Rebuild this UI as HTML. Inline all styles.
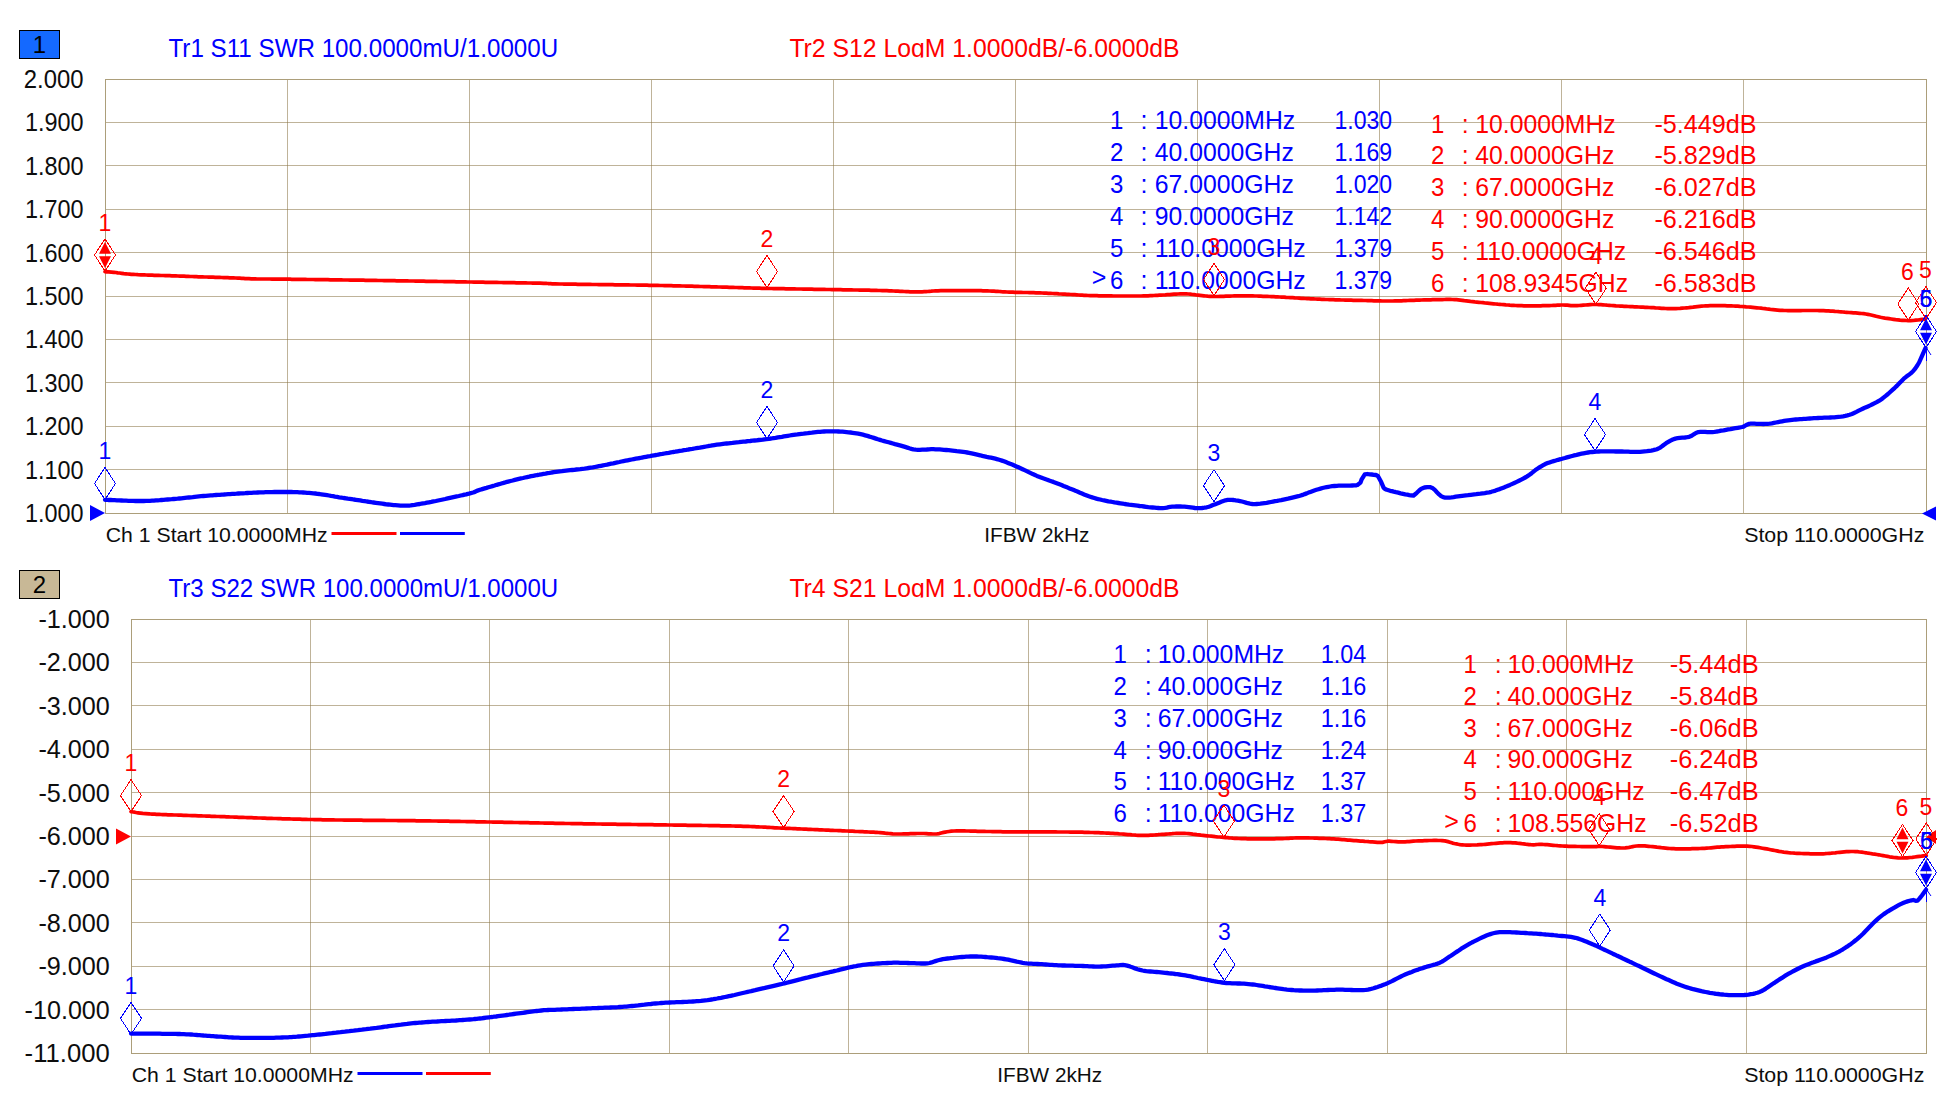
<!DOCTYPE html>
<html><head><meta charset="utf-8"><title>VNA</title>
<style>html,body{margin:0;padding:0;background:#fff;overflow:hidden}svg{display:block}text{font-family:"Liberation Sans",sans-serif}</style>
</head><body>
<svg width="1951" height="1108" viewBox="0 0 1951 1108">
<rect width="1951" height="1108" fill="#fff"/>
<rect x="19.5" y="30.5" width="40" height="28" fill="#1469ff" stroke="#000" stroke-width="1"/>
<text x="32.64" y="52.80" font-size="24" fill="#000">1</text>
<text x="168.50" y="57.40" font-size="25" fill="#0000ff" textLength="389.69" lengthAdjust="spacingAndGlyphs">Tr1 S11 SWR 100.0000mU/1.0000U</text>
<clipPath id="clip0"><rect x="780" y="30" width="420" height="27.5"/></clipPath>
<text x="789.40" y="56.80" font-size="25" fill="#ff0000" textLength="390.15" lengthAdjust="spacingAndGlyphs" clip-path="url(#clip0)">Tr2 S12 LogM 1.0000dB/-6.0000dB</text>
<path d="M106 122.5H1926M106 165.5H1926M106 209.5H1926M106 252.5H1926M106 296.5H1926M106 339.5H1926M106 382.5H1926M106 426.5H1926M106 469.5H1926" stroke="#8a7445" stroke-opacity="0.55" stroke-width="1" fill="none" shape-rendering="crispEdges"/>
<path d="M287.5 80V513M469.5 80V513M651.5 80V513M833.5 80V513M1015.5 80V513M1197.5 80V513M1379.5 80V513M1561.5 80V513M1743.5 80V513" stroke="#8a7445" stroke-opacity="0.55" stroke-width="1" fill="none" shape-rendering="crispEdges"/>
<rect x="105.5" y="79.5" width="1821" height="434" stroke="#ac9e7a" stroke-width="1" fill="none" shape-rendering="crispEdges"/>
<text x="23.80" y="88.00" font-size="25" fill="#0d0d0d" textLength="59.74" lengthAdjust="spacingAndGlyphs">2.000</text>
<text x="24.90" y="131.40" font-size="25" fill="#0d0d0d" textLength="58.64" lengthAdjust="spacingAndGlyphs">1.900</text>
<text x="24.90" y="174.80" font-size="25" fill="#0d0d0d" textLength="58.64" lengthAdjust="spacingAndGlyphs">1.800</text>
<text x="24.90" y="218.20" font-size="25" fill="#0d0d0d" textLength="58.64" lengthAdjust="spacingAndGlyphs">1.700</text>
<text x="24.90" y="261.60" font-size="25" fill="#0d0d0d" textLength="58.64" lengthAdjust="spacingAndGlyphs">1.600</text>
<text x="24.90" y="305.00" font-size="25" fill="#0d0d0d" textLength="58.64" lengthAdjust="spacingAndGlyphs">1.500</text>
<text x="24.90" y="348.40" font-size="25" fill="#0d0d0d" textLength="58.64" lengthAdjust="spacingAndGlyphs">1.400</text>
<text x="24.90" y="391.80" font-size="25" fill="#0d0d0d" textLength="58.64" lengthAdjust="spacingAndGlyphs">1.300</text>
<text x="24.90" y="435.20" font-size="25" fill="#0d0d0d" textLength="58.64" lengthAdjust="spacingAndGlyphs">1.200</text>
<text x="24.90" y="478.60" font-size="25" fill="#0d0d0d" textLength="58.64" lengthAdjust="spacingAndGlyphs">1.100</text>
<text x="24.90" y="522.00" font-size="25" fill="#0d0d0d" textLength="58.64" lengthAdjust="spacingAndGlyphs">1.000</text>
<text x="105.80" y="541.80" font-size="21" fill="#0d0d0d" textLength="221.80" lengthAdjust="spacingAndGlyphs">Ch 1 Start 10.0000MHz</text>
<path d="M331.5 533.5h65" stroke="#ff0000" stroke-width="3"/>
<path d="M400 533.5h64.8" stroke="#0000ff" stroke-width="3"/>
<text x="984.20" y="541.90" font-size="21" fill="#0d0d0d" textLength="105.21" lengthAdjust="spacingAndGlyphs">IFBW 2kHz</text>
<text x="1744.20" y="542.10" font-size="21" fill="#0d0d0d" textLength="180.14" lengthAdjust="spacingAndGlyphs">Stop 110.0000GHz</text>
<rect x="19.5" y="570.5" width="40" height="28" fill="#c8b896" stroke="#000" stroke-width="1"/>
<text x="32.64" y="592.80" font-size="24" fill="#000">2</text>
<text x="168.50" y="597.40" font-size="25" fill="#0000ff" textLength="389.67" lengthAdjust="spacingAndGlyphs">Tr3 S22 SWR 100.0000mU/1.0000U</text>
<clipPath id="clip540"><rect x="780" y="570" width="420" height="27.5"/></clipPath>
<text x="789.40" y="596.80" font-size="25" fill="#ff0000" textLength="390.15" lengthAdjust="spacingAndGlyphs" clip-path="url(#clip540)">Tr4 S21 LogM 1.0000dB/-6.0000dB</text>
<path d="M132 662.5H1926M132 705.5H1926M132 749.5H1926M132 792.5H1926M132 836.5H1926M132 879.5H1926M132 922.5H1926M132 966.5H1926M132 1009.5H1926" stroke="#8a7445" stroke-opacity="0.55" stroke-width="1" fill="none" shape-rendering="crispEdges"/>
<path d="M310.5 620V1053M489.5 620V1053M669.5 620V1053M848.5 620V1053M1028.5 620V1053M1207.5 620V1053M1387.5 620V1053M1566.5 620V1053M1746.5 620V1053" stroke="#8a7445" stroke-opacity="0.55" stroke-width="1" fill="none" shape-rendering="crispEdges"/>
<rect x="131.5" y="619.5" width="1795" height="434" stroke="#ac9e7a" stroke-width="1" fill="none" shape-rendering="crispEdges"/>
<text x="38.40" y="628.00" font-size="25" fill="#0d0d0d" textLength="71.41" lengthAdjust="spacingAndGlyphs">-1.000</text>
<text x="38.40" y="671.40" font-size="25" fill="#0d0d0d" textLength="71.41" lengthAdjust="spacingAndGlyphs">-2.000</text>
<text x="38.40" y="714.80" font-size="25" fill="#0d0d0d" textLength="71.41" lengthAdjust="spacingAndGlyphs">-3.000</text>
<text x="38.40" y="758.20" font-size="25" fill="#0d0d0d" textLength="71.41" lengthAdjust="spacingAndGlyphs">-4.000</text>
<text x="38.40" y="801.60" font-size="25" fill="#0d0d0d" textLength="71.41" lengthAdjust="spacingAndGlyphs">-5.000</text>
<text x="38.40" y="845.00" font-size="25" fill="#0d0d0d" textLength="71.41" lengthAdjust="spacingAndGlyphs">-6.000</text>
<text x="38.40" y="888.40" font-size="25" fill="#0d0d0d" textLength="71.41" lengthAdjust="spacingAndGlyphs">-7.000</text>
<text x="38.40" y="931.80" font-size="25" fill="#0d0d0d" textLength="71.41" lengthAdjust="spacingAndGlyphs">-8.000</text>
<text x="38.40" y="975.20" font-size="25" fill="#0d0d0d" textLength="71.41" lengthAdjust="spacingAndGlyphs">-9.000</text>
<text x="24.60" y="1018.60" font-size="25" fill="#0d0d0d" textLength="85.24" lengthAdjust="spacingAndGlyphs">-10.000</text>
<text x="24.60" y="1062.00" font-size="25" fill="#0d0d0d" textLength="85.14" lengthAdjust="spacingAndGlyphs">-11.000</text>
<text x="131.80" y="1081.80" font-size="21" fill="#0d0d0d" textLength="221.80" lengthAdjust="spacingAndGlyphs">Ch 1 Start 10.0000MHz</text>
<path d="M357.5 1073.5h65" stroke="#0000ff" stroke-width="3"/>
<path d="M426 1073.5h64.8" stroke="#ff0000" stroke-width="3"/>
<text x="997.30" y="1081.90" font-size="21" fill="#0d0d0d" textLength="104.91" lengthAdjust="spacingAndGlyphs">IFBW 2kHz</text>
<text x="1744.20" y="1082.10" font-size="21" fill="#0d0d0d" textLength="180.14" lengthAdjust="spacingAndGlyphs">Stop 110.0000GHz</text>
<text x="1110.00" y="128.90" font-size="25" fill="#0000ff" textLength="13.35" lengthAdjust="spacingAndGlyphs">1</text>
<text x="1140.60" y="128.90" font-size="25" fill="#0000ff">:</text>
<text x="1154.80" y="128.90" font-size="25" fill="#0000ff" textLength="140.33" lengthAdjust="spacingAndGlyphs">10.0000MHz</text>
<text x="1334.50" y="128.90" font-size="25" fill="#0000ff" textLength="57.66" lengthAdjust="spacingAndGlyphs">1.030</text>
<text x="1110.00" y="160.90" font-size="25" fill="#0000ff" textLength="13.35" lengthAdjust="spacingAndGlyphs">2</text>
<text x="1140.60" y="160.90" font-size="25" fill="#0000ff">:</text>
<text x="1154.80" y="160.90" font-size="25" fill="#0000ff" textLength="138.97" lengthAdjust="spacingAndGlyphs">40.0000GHz</text>
<text x="1334.50" y="160.90" font-size="25" fill="#0000ff" textLength="57.66" lengthAdjust="spacingAndGlyphs">1.169</text>
<text x="1110.00" y="192.90" font-size="25" fill="#0000ff" textLength="13.35" lengthAdjust="spacingAndGlyphs">3</text>
<text x="1140.60" y="192.90" font-size="25" fill="#0000ff">:</text>
<text x="1154.80" y="192.90" font-size="25" fill="#0000ff" textLength="138.97" lengthAdjust="spacingAndGlyphs">67.0000GHz</text>
<text x="1334.50" y="192.90" font-size="25" fill="#0000ff" textLength="57.66" lengthAdjust="spacingAndGlyphs">1.020</text>
<text x="1110.00" y="224.90" font-size="25" fill="#0000ff" textLength="13.35" lengthAdjust="spacingAndGlyphs">4</text>
<text x="1140.60" y="224.90" font-size="25" fill="#0000ff">:</text>
<text x="1154.80" y="224.90" font-size="25" fill="#0000ff" textLength="138.97" lengthAdjust="spacingAndGlyphs">90.0000GHz</text>
<text x="1334.50" y="224.90" font-size="25" fill="#0000ff" textLength="57.66" lengthAdjust="spacingAndGlyphs">1.142</text>
<text x="1110.00" y="256.90" font-size="25" fill="#0000ff" textLength="13.35" lengthAdjust="spacingAndGlyphs">5</text>
<text x="1140.60" y="256.90" font-size="25" fill="#0000ff">:</text>
<text x="1154.80" y="256.90" font-size="25" fill="#0000ff" textLength="150.90" lengthAdjust="spacingAndGlyphs">110.0000GHz</text>
<text x="1334.50" y="256.90" font-size="25" fill="#0000ff" textLength="57.66" lengthAdjust="spacingAndGlyphs">1.379</text>
<text x="1110.00" y="288.90" font-size="25" fill="#0000ff" textLength="13.35" lengthAdjust="spacingAndGlyphs">6</text>
<text x="1140.60" y="288.90" font-size="25" fill="#0000ff">:</text>
<text x="1154.80" y="288.90" font-size="25" fill="#0000ff" textLength="150.90" lengthAdjust="spacingAndGlyphs">110.0000GHz</text>
<text x="1334.50" y="288.90" font-size="25" fill="#0000ff" textLength="57.66" lengthAdjust="spacingAndGlyphs">1.379</text>
<text x="1091.70" y="286.40" font-size="25" fill="#0000ff">&gt;</text>
<text x="1431.00" y="132.50" font-size="25" fill="#ff0000" textLength="13.35" lengthAdjust="spacingAndGlyphs">1</text>
<text x="1461.80" y="132.50" font-size="25" fill="#ff0000">:</text>
<text x="1475.30" y="132.50" font-size="25" fill="#ff0000" textLength="140.33" lengthAdjust="spacingAndGlyphs">10.0000MHz</text>
<text x="1654.40" y="132.50" font-size="25" fill="#ff0000" textLength="102.28" lengthAdjust="spacingAndGlyphs">-5.449dB</text>
<text x="1431.00" y="164.40" font-size="25" fill="#ff0000" textLength="13.35" lengthAdjust="spacingAndGlyphs">2</text>
<text x="1461.80" y="164.40" font-size="25" fill="#ff0000">:</text>
<text x="1475.30" y="164.40" font-size="25" fill="#ff0000" textLength="138.97" lengthAdjust="spacingAndGlyphs">40.0000GHz</text>
<text x="1654.40" y="164.40" font-size="25" fill="#ff0000" textLength="102.28" lengthAdjust="spacingAndGlyphs">-5.829dB</text>
<text x="1431.00" y="196.30" font-size="25" fill="#ff0000" textLength="13.35" lengthAdjust="spacingAndGlyphs">3</text>
<text x="1461.80" y="196.30" font-size="25" fill="#ff0000">:</text>
<text x="1475.30" y="196.30" font-size="25" fill="#ff0000" textLength="138.97" lengthAdjust="spacingAndGlyphs">67.0000GHz</text>
<text x="1654.40" y="196.30" font-size="25" fill="#ff0000" textLength="102.28" lengthAdjust="spacingAndGlyphs">-6.027dB</text>
<text x="1431.00" y="228.20" font-size="25" fill="#ff0000" textLength="13.35" lengthAdjust="spacingAndGlyphs">4</text>
<text x="1461.80" y="228.20" font-size="25" fill="#ff0000">:</text>
<text x="1475.30" y="228.20" font-size="25" fill="#ff0000" textLength="138.97" lengthAdjust="spacingAndGlyphs">90.0000GHz</text>
<text x="1654.40" y="228.20" font-size="25" fill="#ff0000" textLength="102.28" lengthAdjust="spacingAndGlyphs">-6.216dB</text>
<text x="1431.00" y="260.10" font-size="25" fill="#ff0000" textLength="13.35" lengthAdjust="spacingAndGlyphs">5</text>
<text x="1461.80" y="260.10" font-size="25" fill="#ff0000">:</text>
<text x="1475.30" y="260.10" font-size="25" fill="#ff0000" textLength="150.90" lengthAdjust="spacingAndGlyphs">110.0000GHz</text>
<text x="1654.40" y="260.10" font-size="25" fill="#ff0000" textLength="102.28" lengthAdjust="spacingAndGlyphs">-6.546dB</text>
<text x="1431.00" y="292.00" font-size="25" fill="#ff0000" textLength="13.35" lengthAdjust="spacingAndGlyphs">6</text>
<text x="1461.80" y="292.00" font-size="25" fill="#ff0000">:</text>
<text x="1475.30" y="292.00" font-size="25" fill="#ff0000" textLength="152.73" lengthAdjust="spacingAndGlyphs">108.9345GHz</text>
<text x="1654.40" y="292.00" font-size="25" fill="#ff0000" textLength="102.28" lengthAdjust="spacingAndGlyphs">-6.583dB</text>
<text x="1113.50" y="663.10" font-size="25" fill="#0000ff" textLength="13.35" lengthAdjust="spacingAndGlyphs">1</text>
<text x="1144.80" y="663.10" font-size="25" fill="#0000ff">:</text>
<text x="1157.70" y="663.10" font-size="25" fill="#0000ff" textLength="126.57" lengthAdjust="spacingAndGlyphs">10.000MHz</text>
<text x="1320.70" y="663.10" font-size="25" fill="#0000ff" textLength="45.54" lengthAdjust="spacingAndGlyphs">1.04</text>
<text x="1113.50" y="694.90" font-size="25" fill="#0000ff" textLength="13.35" lengthAdjust="spacingAndGlyphs">2</text>
<text x="1144.80" y="694.90" font-size="25" fill="#0000ff">:</text>
<text x="1157.70" y="694.90" font-size="25" fill="#0000ff" textLength="125.20" lengthAdjust="spacingAndGlyphs">40.000GHz</text>
<text x="1320.70" y="694.90" font-size="25" fill="#0000ff" textLength="45.54" lengthAdjust="spacingAndGlyphs">1.16</text>
<text x="1113.50" y="726.70" font-size="25" fill="#0000ff" textLength="13.35" lengthAdjust="spacingAndGlyphs">3</text>
<text x="1144.80" y="726.70" font-size="25" fill="#0000ff">:</text>
<text x="1157.70" y="726.70" font-size="25" fill="#0000ff" textLength="125.20" lengthAdjust="spacingAndGlyphs">67.000GHz</text>
<text x="1320.70" y="726.70" font-size="25" fill="#0000ff" textLength="45.54" lengthAdjust="spacingAndGlyphs">1.16</text>
<text x="1113.50" y="758.50" font-size="25" fill="#0000ff" textLength="13.35" lengthAdjust="spacingAndGlyphs">4</text>
<text x="1144.80" y="758.50" font-size="25" fill="#0000ff">:</text>
<text x="1157.70" y="758.50" font-size="25" fill="#0000ff" textLength="125.20" lengthAdjust="spacingAndGlyphs">90.000GHz</text>
<text x="1320.70" y="758.50" font-size="25" fill="#0000ff" textLength="45.54" lengthAdjust="spacingAndGlyphs">1.24</text>
<text x="1113.50" y="790.30" font-size="25" fill="#0000ff" textLength="13.35" lengthAdjust="spacingAndGlyphs">5</text>
<text x="1144.80" y="790.30" font-size="25" fill="#0000ff">:</text>
<text x="1157.70" y="790.30" font-size="25" fill="#0000ff" textLength="137.13" lengthAdjust="spacingAndGlyphs">110.000GHz</text>
<text x="1320.70" y="790.30" font-size="25" fill="#0000ff" textLength="45.54" lengthAdjust="spacingAndGlyphs">1.37</text>
<text x="1113.50" y="822.10" font-size="25" fill="#0000ff" textLength="13.35" lengthAdjust="spacingAndGlyphs">6</text>
<text x="1144.80" y="822.10" font-size="25" fill="#0000ff">:</text>
<text x="1157.70" y="822.10" font-size="25" fill="#0000ff" textLength="137.13" lengthAdjust="spacingAndGlyphs">110.000GHz</text>
<text x="1320.70" y="822.10" font-size="25" fill="#0000ff" textLength="45.54" lengthAdjust="spacingAndGlyphs">1.37</text>
<text x="1463.50" y="672.90" font-size="25" fill="#ff0000" textLength="13.35" lengthAdjust="spacingAndGlyphs">1</text>
<text x="1494.80" y="672.90" font-size="25" fill="#ff0000">:</text>
<text x="1507.60" y="672.90" font-size="25" fill="#ff0000" textLength="126.57" lengthAdjust="spacingAndGlyphs">10.000MHz</text>
<text x="1669.70" y="672.90" font-size="25" fill="#ff0000" textLength="89.02" lengthAdjust="spacingAndGlyphs">-5.44dB</text>
<text x="1463.50" y="704.75" font-size="25" fill="#ff0000" textLength="13.35" lengthAdjust="spacingAndGlyphs">2</text>
<text x="1494.80" y="704.75" font-size="25" fill="#ff0000">:</text>
<text x="1507.60" y="704.75" font-size="25" fill="#ff0000" textLength="125.20" lengthAdjust="spacingAndGlyphs">40.000GHz</text>
<text x="1669.70" y="704.75" font-size="25" fill="#ff0000" textLength="89.02" lengthAdjust="spacingAndGlyphs">-5.84dB</text>
<text x="1463.50" y="736.60" font-size="25" fill="#ff0000" textLength="13.35" lengthAdjust="spacingAndGlyphs">3</text>
<text x="1494.80" y="736.60" font-size="25" fill="#ff0000">:</text>
<text x="1507.60" y="736.60" font-size="25" fill="#ff0000" textLength="125.20" lengthAdjust="spacingAndGlyphs">67.000GHz</text>
<text x="1669.70" y="736.60" font-size="25" fill="#ff0000" textLength="89.02" lengthAdjust="spacingAndGlyphs">-6.06dB</text>
<text x="1463.50" y="768.45" font-size="25" fill="#ff0000" textLength="13.35" lengthAdjust="spacingAndGlyphs">4</text>
<text x="1494.80" y="768.45" font-size="25" fill="#ff0000">:</text>
<text x="1507.60" y="768.45" font-size="25" fill="#ff0000" textLength="125.20" lengthAdjust="spacingAndGlyphs">90.000GHz</text>
<text x="1669.70" y="768.45" font-size="25" fill="#ff0000" textLength="89.02" lengthAdjust="spacingAndGlyphs">-6.24dB</text>
<text x="1463.50" y="800.30" font-size="25" fill="#ff0000" textLength="13.35" lengthAdjust="spacingAndGlyphs">5</text>
<text x="1494.80" y="800.30" font-size="25" fill="#ff0000">:</text>
<text x="1507.60" y="800.30" font-size="25" fill="#ff0000" textLength="137.13" lengthAdjust="spacingAndGlyphs">110.000GHz</text>
<text x="1669.70" y="800.30" font-size="25" fill="#ff0000" textLength="89.02" lengthAdjust="spacingAndGlyphs">-6.47dB</text>
<text x="1463.50" y="832.15" font-size="25" fill="#ff0000" textLength="13.35" lengthAdjust="spacingAndGlyphs">6</text>
<text x="1494.80" y="832.15" font-size="25" fill="#ff0000">:</text>
<text x="1507.60" y="832.15" font-size="25" fill="#ff0000" textLength="138.97" lengthAdjust="spacingAndGlyphs">108.556GHz</text>
<text x="1669.70" y="832.15" font-size="25" fill="#ff0000" textLength="89.02" lengthAdjust="spacingAndGlyphs">-6.52dB</text>
<text x="1444.20" y="829.65" font-size="25" fill="#ff0000">&gt;</text>
<path d="M105.0 271.7 L106.5 271.8 L108.8 271.9 L111.3 272.1 L114.0 272.3 L115.8 272.5 L117.7 272.8 L119.6 273.0 L121.7 273.3 L123.8 273.6 L126.0 273.8 L127.8 274.0 L129.6 274.1 L131.4 274.3 L133.3 274.4 L135.5 274.5 L138.0 274.7 L141.0 274.8 L142.6 274.9 L144.3 274.9 L146.2 275.0 L148.1 275.1 L150.1 275.1 L152.2 275.2 L154.3 275.3 L156.5 275.3 L158.7 275.4 L161.0 275.5 L163.2 275.5 L165.4 275.6 L167.6 275.7 L169.7 275.7 L171.8 275.8 L173.8 275.9 L175.9 275.9 L177.9 276.0 L180.0 276.1 L182.0 276.2 L184.1 276.2 L186.1 276.3 L188.2 276.4 L190.2 276.5 L192.3 276.5 L194.3 276.6 L196.4 276.7 L198.4 276.8 L200.5 276.8 L202.5 276.9 L204.6 277.0 L206.7 277.0 L208.8 277.1 L211.0 277.2 L213.1 277.2 L215.3 277.3 L217.5 277.4 L219.6 277.4 L221.7 277.5 L223.8 277.6 L225.8 277.6 L227.8 277.7 L229.7 277.8 L231.5 277.8 L233.3 277.9 L235.7 278.0 L237.9 278.1 L239.8 278.2 L241.6 278.3 L243.4 278.4 L245.2 278.6 L247.0 278.7 L249.0 278.7 L251.3 278.8 L253.8 278.9 L255.4 278.9 L257.0 279.0 L258.4 279.0 L259.9 279.0 L261.3 279.0 L262.8 279.0 L264.4 279.0 L266.0 279.0 L267.8 279.0 L269.8 279.0 L272.0 279.1 L274.5 279.1 L277.2 279.1 L280.2 279.1 L283.6 279.2 L287.3 279.2 L288.7 279.2 L290.2 279.2 L291.7 279.3 L293.2 279.3 L294.8 279.3 L296.5 279.3 L298.2 279.3 L300.0 279.4 L301.7 279.4 L303.6 279.4 L305.4 279.4 L307.3 279.5 L309.3 279.5 L311.3 279.5 L313.3 279.5 L315.3 279.6 L317.4 279.6 L319.4 279.6 L321.5 279.7 L323.7 279.7 L325.8 279.7 L328.0 279.7 L330.2 279.8 L332.4 279.8 L334.6 279.8 L336.8 279.9 L339.0 279.9 L341.2 279.9 L343.4 280.0 L345.7 280.0 L347.9 280.0 L350.1 280.1 L352.4 280.1 L354.6 280.1 L356.8 280.2 L359.0 280.2 L361.2 280.2 L363.3 280.2 L365.5 280.3 L367.6 280.3 L369.8 280.3 L371.9 280.4 L373.9 280.4 L376.0 280.4 L378.0 280.5 L380.0 280.5 L382.1 280.5 L384.1 280.6 L386.2 280.6 L388.3 280.6 L390.4 280.7 L392.5 280.7 L394.6 280.7 L396.7 280.8 L398.8 280.8 L400.9 280.8 L403.0 280.9 L405.1 280.9 L407.2 280.9 L409.3 281.0 L411.4 281.0 L413.5 281.0 L415.6 281.1 L417.7 281.1 L419.8 281.1 L421.9 281.2 L423.9 281.2 L426.0 281.3 L428.1 281.3 L430.2 281.3 L432.2 281.4 L434.3 281.4 L436.3 281.4 L438.3 281.5 L440.4 281.5 L442.4 281.5 L444.4 281.6 L446.4 281.6 L448.4 281.6 L450.3 281.7 L452.3 281.7 L454.2 281.7 L456.2 281.8 L458.1 281.8 L460.0 281.8 L461.9 281.9 L463.8 281.9 L465.6 281.9 L467.5 282.0 L469.3 282.0 L471.6 282.0 L473.9 282.1 L476.2 282.1 L478.5 282.2 L480.8 282.2 L483.1 282.2 L485.4 282.3 L487.7 282.3 L490.0 282.3 L492.3 282.4 L494.6 282.4 L496.9 282.4 L499.1 282.5 L501.4 282.5 L503.6 282.6 L505.7 282.6 L507.9 282.6 L510.0 282.7 L512.2 282.7 L514.2 282.7 L516.3 282.8 L518.3 282.8 L520.2 282.8 L522.2 282.9 L524.0 282.9 L525.9 282.9 L527.7 283.0 L529.4 283.0 L531.1 283.0 L532.7 283.1 L534.3 283.1 L535.8 283.1 L537.3 283.1 L538.7 283.2 L540.0 283.2 L543.7 283.3 L546.1 283.4 L547.5 283.5 L548.3 283.5 L548.7 283.6 L549.3 283.7 L550.4 283.7 L552.3 283.8 L555.4 283.9 L560.0 284.0 L561.3 284.0 L562.6 284.0 L564.0 284.1 L565.5 284.1 L567.1 284.1 L568.7 284.1 L570.4 284.2 L572.2 284.2 L574.0 284.2 L575.8 284.2 L577.7 284.3 L579.7 284.3 L581.7 284.3 L583.7 284.4 L585.8 284.4 L587.9 284.4 L590.1 284.4 L592.3 284.5 L594.5 284.5 L596.7 284.5 L598.9 284.6 L601.2 284.6 L603.5 284.6 L605.7 284.6 L608.0 284.7 L610.3 284.7 L612.6 284.7 L614.9 284.8 L617.2 284.8 L619.5 284.8 L621.8 284.8 L624.0 284.9 L626.3 284.9 L628.5 284.9 L630.7 285.0 L632.9 285.0 L635.0 285.0 L637.2 285.1 L639.2 285.1 L641.3 285.1 L643.3 285.2 L645.2 285.2 L647.1 285.2 L649.0 285.3 L650.8 285.3 L653.1 285.3 L655.5 285.4 L657.8 285.4 L660.1 285.5 L662.3 285.5 L664.6 285.6 L666.8 285.6 L669.1 285.7 L671.3 285.7 L673.4 285.8 L675.6 285.8 L677.7 285.9 L679.9 285.9 L682.0 286.0 L684.1 286.0 L686.1 286.1 L688.2 286.1 L690.2 286.2 L692.2 286.2 L694.2 286.3 L696.2 286.4 L698.1 286.4 L700.1 286.5 L702.0 286.5 L703.9 286.6 L705.7 286.6 L707.6 286.7 L709.4 286.7 L711.2 286.8 L713.0 286.8 L714.8 286.9 L716.6 286.9 L718.3 287.0 L720.0 287.0 L722.5 287.1 L724.8 287.1 L727.0 287.2 L729.2 287.3 L731.2 287.3 L733.2 287.4 L735.1 287.5 L737.0 287.5 L738.8 287.6 L740.6 287.6 L742.4 287.7 L744.2 287.8 L746.0 287.8 L747.8 287.9 L749.6 287.9 L751.5 288.0 L753.4 288.1 L755.3 288.1 L757.4 288.2 L759.5 288.2 L761.7 288.3 L764.0 288.3 L766.4 288.4 L768.1 288.4 L770.0 288.5 L771.8 288.5 L773.7 288.6 L775.6 288.6 L777.6 288.6 L779.7 288.7 L781.7 288.7 L783.8 288.7 L785.9 288.8 L788.0 288.8 L790.2 288.9 L792.3 288.9 L794.5 288.9 L796.7 289.0 L798.9 289.0 L801.1 289.0 L803.3 289.1 L805.5 289.1 L807.7 289.2 L809.8 289.2 L812.0 289.2 L814.1 289.3 L816.2 289.3 L818.3 289.3 L820.3 289.4 L822.4 289.4 L824.4 289.4 L826.3 289.5 L828.2 289.5 L830.0 289.5 L831.9 289.6 L833.6 289.6 L836.0 289.6 L838.4 289.7 L840.7 289.7 L843.0 289.8 L845.2 289.8 L847.4 289.8 L849.5 289.9 L851.6 289.9 L853.7 290.0 L855.7 290.0 L857.7 290.0 L859.6 290.1 L861.6 290.1 L863.5 290.1 L865.4 290.2 L867.2 290.2 L869.1 290.2 L870.9 290.3 L872.7 290.3 L874.6 290.4 L876.4 290.4 L878.2 290.5 L880.0 290.5 L882.3 290.6 L884.6 290.6 L886.9 290.7 L889.2 290.8 L891.4 290.9 L893.6 291.0 L895.8 291.1 L898.0 291.2 L900.1 291.3 L902.2 291.4 L904.2 291.5 L906.2 291.6 L908.2 291.7 L910.1 291.8 L912.0 291.8 L913.8 291.9 L915.6 291.9 L917.3 291.9 L919.9 291.9 L922.1 291.8 L924.2 291.7 L926.0 291.6 L927.8 291.5 L929.5 291.3 L931.3 291.2 L933.3 291.0 L935.5 290.9 L938.0 290.8 L940.8 290.7 L942.5 290.7 L944.3 290.7 L946.2 290.6 L948.2 290.6 L950.2 290.6 L952.4 290.6 L954.6 290.6 L956.9 290.6 L959.2 290.6 L961.5 290.6 L963.8 290.6 L966.1 290.6 L968.4 290.6 L970.7 290.6 L972.9 290.6 L975.1 290.7 L977.2 290.7 L979.2 290.7 L981.1 290.7 L982.9 290.8 L984.6 290.8 L987.3 290.9 L989.7 291.0 L992.0 291.1 L994.0 291.2 L995.9 291.3 L997.7 291.4 L999.5 291.5 L1001.3 291.7 L1003.1 291.8 L1005.0 291.9 L1007.0 292.0 L1009.2 292.1 L1011.1 292.2 L1013.0 292.2 L1015.0 292.3 L1017.0 292.3 L1019.0 292.4 L1021.1 292.4 L1023.2 292.5 L1025.3 292.5 L1027.4 292.5 L1029.5 292.6 L1031.6 292.6 L1033.7 292.7 L1035.9 292.8 L1037.9 292.8 L1040.0 292.9 L1042.1 293.0 L1044.1 293.1 L1046.2 293.2 L1048.4 293.3 L1050.5 293.4 L1052.6 293.5 L1054.7 293.6 L1056.8 293.7 L1058.9 293.9 L1060.9 294.0 L1063.0 294.1 L1065.0 294.2 L1066.9 294.3 L1068.8 294.4 L1070.7 294.5 L1072.9 294.6 L1074.9 294.7 L1076.8 294.8 L1078.7 295.0 L1080.4 295.1 L1082.2 295.2 L1084.0 295.3 L1086.0 295.4 L1088.0 295.5 L1090.2 295.6 L1092.6 295.6 L1095.3 295.7 L1097.0 295.7 L1098.8 295.8 L1100.6 295.8 L1102.6 295.8 L1104.7 295.9 L1106.8 295.9 L1109.0 295.9 L1111.2 295.9 L1113.4 296.0 L1115.7 296.0 L1118.0 296.0 L1120.3 296.0 L1122.5 296.0 L1124.7 296.0 L1126.9 296.0 L1129.0 296.0 L1131.1 296.0 L1133.1 296.0 L1134.9 296.0 L1136.7 296.0 L1138.4 296.0 L1141.1 296.0 L1143.6 295.9 L1145.9 295.8 L1148.1 295.8 L1150.1 295.7 L1152.1 295.6 L1153.9 295.5 L1155.8 295.4 L1157.5 295.3 L1159.3 295.2 L1161.1 295.1 L1163.0 295.0 L1165.3 294.9 L1167.5 294.7 L1169.7 294.6 L1171.9 294.4 L1174.0 294.2 L1176.1 294.1 L1178.1 294.0 L1180.1 293.9 L1182.0 293.8 L1183.9 293.8 L1186.2 293.9 L1188.3 294.0 L1190.3 294.2 L1192.3 294.5 L1194.3 294.7 L1196.2 295.0 L1198.1 295.2 L1200.0 295.4 L1202.1 295.6 L1203.9 295.8 L1205.7 296.0 L1207.6 296.2 L1209.6 296.3 L1212.0 296.4 L1214.8 296.5 L1216.4 296.5 L1218.1 296.5 L1219.9 296.4 L1221.8 296.4 L1223.8 296.3 L1225.8 296.2 L1227.9 296.2 L1230.0 296.1 L1232.2 296.0 L1234.4 295.9 L1236.5 295.9 L1238.7 295.8 L1240.9 295.8 L1243.0 295.8 L1245.0 295.8 L1246.9 295.8 L1248.9 295.9 L1250.9 295.9 L1252.8 295.9 L1254.8 296.0 L1256.8 296.0 L1258.9 296.1 L1260.9 296.2 L1263.0 296.3 L1265.1 296.3 L1267.2 296.4 L1269.4 296.5 L1271.6 296.6 L1273.8 296.7 L1275.7 296.8 L1277.7 296.9 L1279.7 297.0 L1281.8 297.1 L1284.0 297.2 L1286.1 297.4 L1288.3 297.5 L1290.5 297.6 L1292.6 297.7 L1294.8 297.9 L1297.0 298.0 L1299.1 298.1 L1301.2 298.3 L1303.2 298.4 L1305.2 298.5 L1307.1 298.6 L1308.9 298.7 L1310.7 298.8 L1313.2 298.9 L1315.5 299.0 L1317.7 299.1 L1319.8 299.2 L1321.8 299.3 L1323.8 299.4 L1325.7 299.5 L1327.6 299.5 L1329.4 299.6 L1331.3 299.7 L1333.3 299.7 L1335.3 299.8 L1337.3 299.9 L1339.3 299.9 L1341.3 300.0 L1343.3 300.0 L1345.2 300.1 L1347.2 300.1 L1349.2 300.2 L1351.2 300.2 L1353.3 300.3 L1355.4 300.3 L1357.6 300.4 L1359.9 300.4 L1361.8 300.4 L1363.7 300.5 L1365.7 300.5 L1367.7 300.6 L1369.7 300.7 L1371.8 300.7 L1373.9 300.8 L1376.0 300.8 L1378.1 300.9 L1380.2 300.9 L1382.3 301.0 L1384.4 301.0 L1386.6 301.0 L1388.6 301.0 L1390.7 301.0 L1392.8 301.0 L1394.9 300.9 L1397.0 300.9 L1399.2 300.8 L1401.4 300.8 L1403.6 300.7 L1405.7 300.6 L1407.9 300.5 L1410.0 300.4 L1412.1 300.3 L1414.1 300.3 L1416.0 300.2 L1417.9 300.1 L1419.7 300.1 L1421.4 300.0 L1424.0 299.9 L1426.4 299.9 L1428.6 299.8 L1430.7 299.8 L1432.7 299.7 L1434.5 299.7 L1436.4 299.7 L1438.2 299.6 L1440.0 299.6 L1442.2 299.6 L1444.3 299.5 L1446.2 299.4 L1448.1 299.4 L1450.2 299.4 L1452.3 299.5 L1454.8 299.6 L1456.5 299.7 L1458.3 299.9 L1460.2 300.1 L1462.2 300.3 L1464.2 300.6 L1466.3 300.8 L1468.4 301.1 L1470.5 301.4 L1472.6 301.6 L1474.8 301.9 L1476.9 302.1 L1478.9 302.3 L1480.9 302.5 L1483.0 302.7 L1485.1 303.0 L1487.3 303.2 L1489.4 303.4 L1491.6 303.6 L1493.7 303.8 L1495.7 304.0 L1497.7 304.2 L1499.7 304.3 L1501.5 304.5 L1503.8 304.7 L1505.9 304.9 L1507.9 305.0 L1509.8 305.2 L1511.7 305.3 L1513.6 305.4 L1515.6 305.5 L1517.7 305.6 L1520.0 305.7 L1521.9 305.7 L1523.8 305.8 L1525.9 305.8 L1528.0 305.8 L1530.1 305.8 L1532.3 305.8 L1534.5 305.8 L1536.6 305.8 L1538.7 305.8 L1540.8 305.8 L1542.7 305.7 L1544.6 305.7 L1547.0 305.6 L1549.2 305.6 L1551.4 305.5 L1553.5 305.4 L1555.6 305.3 L1557.5 305.2 L1559.4 305.1 L1561.3 305.0 L1563.0 305.0 L1565.3 305.1 L1567.3 305.2 L1569.1 305.4 L1570.9 305.6 L1572.9 305.7 L1575.3 305.7 L1577.1 305.6 L1579.1 305.5 L1581.2 305.3 L1583.3 305.1 L1585.6 305.0 L1587.9 304.8 L1590.2 304.6 L1592.6 304.5 L1595.0 304.5 L1597.0 304.5 L1598.9 304.6 L1600.9 304.7 L1602.9 304.8 L1605.0 305.0 L1607.1 305.2 L1609.2 305.3 L1611.4 305.5 L1613.7 305.7 L1616.0 305.9 L1618.4 306.0 L1620.2 306.1 L1622.2 306.2 L1624.1 306.3 L1626.2 306.4 L1628.2 306.5 L1630.3 306.6 L1632.5 306.7 L1634.6 306.8 L1636.7 306.9 L1638.9 307.0 L1641.0 307.1 L1643.1 307.2 L1645.1 307.3 L1647.1 307.4 L1649.1 307.5 L1651.3 307.6 L1653.4 307.7 L1655.5 307.9 L1657.6 308.0 L1659.6 308.1 L1661.6 308.3 L1663.6 308.4 L1665.6 308.5 L1667.6 308.6 L1669.7 308.6 L1671.8 308.6 L1673.9 308.6 L1676.0 308.6 L1678.0 308.5 L1680.1 308.4 L1682.2 308.2 L1684.4 308.0 L1686.5 307.8 L1688.7 307.6 L1690.9 307.3 L1693.0 307.1 L1695.2 306.8 L1697.3 306.6 L1699.5 306.4 L1701.6 306.2 L1703.6 306.0 L1705.6 305.9 L1707.9 305.8 L1710.1 305.7 L1712.3 305.7 L1714.5 305.6 L1716.6 305.6 L1718.7 305.6 L1720.8 305.6 L1722.9 305.7 L1725.0 305.7 L1727.1 305.8 L1729.2 305.8 L1731.3 305.9 L1733.4 306.0 L1735.6 306.1 L1737.7 306.2 L1739.8 306.4 L1742.0 306.5 L1744.1 306.7 L1746.2 306.9 L1748.4 307.0 L1750.5 307.2 L1752.6 307.4 L1754.8 307.6 L1756.9 307.8 L1759.0 308.0 L1761.0 308.2 L1763.0 308.5 L1765.0 308.7 L1766.9 309.0 L1768.9 309.2 L1770.9 309.5 L1773.0 309.7 L1775.2 309.9 L1777.5 310.1 L1779.9 310.3 L1782.5 310.4 L1784.2 310.5 L1786.1 310.5 L1788.0 310.6 L1790.0 310.6 L1792.0 310.6 L1794.1 310.6 L1796.3 310.6 L1798.5 310.6 L1800.7 310.6 L1802.8 310.5 L1805.0 310.5 L1807.2 310.5 L1809.4 310.5 L1811.5 310.5 L1813.5 310.5 L1815.5 310.5 L1817.4 310.5 L1819.3 310.6 L1821.0 310.6 L1823.6 310.7 L1826.1 310.8 L1828.5 310.9 L1830.7 311.1 L1832.9 311.2 L1835.0 311.4 L1837.0 311.5 L1839.0 311.7 L1841.0 311.8 L1842.9 312.0 L1844.7 312.2 L1846.6 312.3 L1849.0 312.5 L1851.3 312.6 L1853.5 312.8 L1855.6 312.9 L1857.6 313.1 L1859.6 313.3 L1861.7 313.5 L1863.7 313.7 L1865.8 314.0 L1867.9 314.4 L1870.0 314.8 L1872.1 315.2 L1874.1 315.7 L1876.2 316.3 L1878.3 316.8 L1880.5 317.3 L1882.7 317.7 L1885.0 318.1 L1887.0 318.4 L1889.0 318.7 L1891.2 319.0 L1893.4 319.3 L1895.6 319.6 L1897.8 319.8 L1900.0 320.1 L1902.1 320.3 L1904.2 320.4 L1906.2 320.5 L1908.1 320.6 L1910.7 320.6 L1913.3 320.5 L1915.8 320.2 L1918.2 320.0 L1920.5 319.7 L1922.5 319.4 L1924.2 319.2 L1925.5 319.0" stroke="#ff0000" stroke-width="3.7" fill="none" stroke-linejoin="round" stroke-linecap="round"/>
<path d="M105.0 499.8 L106.1 499.8 L107.5 499.9 L109.1 500.0 L110.8 500.0 L112.7 500.1 L114.7 500.2 L116.9 500.3 L119.1 500.4 L121.4 500.5 L123.8 500.6 L126.1 500.7 L128.5 500.8 L130.9 500.9 L133.2 500.9 L135.5 501.0 L137.7 501.0 L139.8 501.0 L141.8 501.0 L143.9 501.0 L146.0 500.9 L148.0 500.8 L150.0 500.8 L152.0 500.7 L153.9 500.6 L155.9 500.4 L157.8 500.3 L159.7 500.2 L161.7 500.0 L163.6 499.9 L165.6 499.7 L167.6 499.5 L169.6 499.3 L171.7 499.2 L173.8 499.0 L175.7 498.8 L177.6 498.7 L179.4 498.5 L181.3 498.3 L183.1 498.1 L185.0 497.9 L186.9 497.7 L188.8 497.5 L190.7 497.3 L192.7 497.1 L194.7 496.8 L196.8 496.6 L198.9 496.4 L201.1 496.2 L203.4 496.0 L205.7 495.8 L208.2 495.6 L210.7 495.4 L212.4 495.3 L214.2 495.1 L216.0 495.0 L217.9 494.9 L219.8 494.8 L221.8 494.6 L223.8 494.5 L225.9 494.3 L228.0 494.2 L230.1 494.1 L232.2 493.9 L234.4 493.8 L236.5 493.7 L238.7 493.5 L240.9 493.4 L243.0 493.3 L245.2 493.2 L247.4 493.0 L249.5 492.9 L251.6 492.8 L253.7 492.7 L255.8 492.6 L257.8 492.5 L259.8 492.4 L261.8 492.4 L263.7 492.3 L265.5 492.2 L267.3 492.2 L269.7 492.1 L272.1 492.1 L274.4 492.0 L276.7 492.0 L278.9 492.0 L281.1 492.0 L283.2 492.0 L285.3 492.0 L287.4 492.0 L289.4 492.0 L291.4 492.0 L293.4 492.1 L295.4 492.2 L297.4 492.2 L299.3 492.3 L301.3 492.4 L303.2 492.5 L305.2 492.6 L307.1 492.8 L309.1 492.9 L311.3 493.1 L313.3 493.3 L315.4 493.5 L317.4 493.8 L319.4 494.0 L321.3 494.3 L323.2 494.6 L325.2 494.9 L327.1 495.2 L329.0 495.5 L331.0 495.9 L333.0 496.2 L335.0 496.6 L337.1 496.9 L339.2 497.3 L341.4 497.6 L343.7 498.0 L346.0 498.3 L347.8 498.6 L349.7 498.8 L351.7 499.1 L353.8 499.5 L355.9 499.8 L358.0 500.1 L360.2 500.4 L362.4 500.8 L364.6 501.1 L366.9 501.5 L369.1 501.8 L371.4 502.2 L373.6 502.5 L375.8 502.8 L378.0 503.1 L380.2 503.4 L382.3 503.7 L384.3 504.0 L386.3 504.3 L388.3 504.5 L390.1 504.7 L391.9 504.9 L393.6 505.1 L395.2 505.2 L398.0 505.4 L400.4 505.6 L402.5 505.7 L404.3 505.7 L405.9 505.7 L407.5 505.7 L409.1 505.6 L410.7 505.4 L412.5 505.1 L414.6 504.8 L417.0 504.4 L419.8 504.0 L421.4 503.7 L423.2 503.4 L425.0 503.1 L427.0 502.7 L429.1 502.3 L431.3 501.9 L433.5 501.4 L435.8 501.0 L438.1 500.5 L440.5 500.0 L442.9 499.5 L445.2 499.0 L447.6 498.4 L450.0 497.9 L452.3 497.4 L454.5 496.9 L456.7 496.4 L458.8 496.0 L460.8 495.5 L462.7 495.1 L464.5 494.6 L466.2 494.3 L467.7 493.9 L469.0 493.6 L473.2 492.5 L474.9 491.9 L475.6 491.5 L476.8 490.9 L480.0 489.8 L481.4 489.4 L483.0 488.9 L484.7 488.4 L486.5 487.9 L488.4 487.3 L490.4 486.7 L492.5 486.1 L494.6 485.5 L496.8 484.8 L499.1 484.2 L501.4 483.5 L503.6 482.9 L505.9 482.2 L508.2 481.6 L510.5 481.0 L512.7 480.5 L514.8 479.9 L516.9 479.4 L518.9 478.9 L521.0 478.4 L523.0 478.0 L525.1 477.5 L527.1 477.1 L529.2 476.7 L531.2 476.2 L533.3 475.8 L535.3 475.4 L537.4 475.0 L539.4 474.7 L541.5 474.3 L543.5 473.9 L545.6 473.6 L547.6 473.2 L549.7 472.9 L551.7 472.5 L553.8 472.2 L555.8 471.9 L557.9 471.6 L559.9 471.3 L562.0 471.1 L564.0 470.8 L566.1 470.6 L568.1 470.4 L570.2 470.2 L572.2 470.0 L574.3 469.8 L576.4 469.5 L578.4 469.3 L580.4 469.1 L582.5 468.8 L584.5 468.6 L586.6 468.3 L588.6 468.0 L590.7 467.7 L592.8 467.4 L594.8 467.0 L596.9 466.6 L598.9 466.2 L601.0 465.8 L603.0 465.4 L605.1 465.0 L607.1 464.6 L609.2 464.1 L611.2 463.7 L613.3 463.3 L615.3 462.8 L617.4 462.4 L619.4 462.0 L621.5 461.5 L623.5 461.1 L625.6 460.7 L627.6 460.3 L629.6 459.9 L631.7 459.5 L633.8 459.1 L635.8 458.7 L637.9 458.3 L639.9 458.0 L642.0 457.6 L644.0 457.2 L646.0 456.8 L648.1 456.4 L650.1 456.1 L652.2 455.7 L654.2 455.3 L656.3 455.0 L658.4 454.6 L660.4 454.2 L662.5 453.9 L664.5 453.5 L666.6 453.1 L668.7 452.8 L670.9 452.4 L673.1 452.0 L675.3 451.7 L677.5 451.3 L679.7 450.9 L681.9 450.6 L684.1 450.2 L686.3 449.9 L688.4 449.5 L690.5 449.2 L692.5 448.9 L694.4 448.5 L696.3 448.2 L698.1 447.9 L699.8 447.7 L701.4 447.4 L704.1 446.9 L706.2 446.5 L707.9 446.2 L709.4 445.9 L710.8 445.7 L712.4 445.4 L714.3 445.1 L716.8 444.7 L720.0 444.3 L721.5 444.1 L723.1 443.9 L724.8 443.7 L726.6 443.5 L728.5 443.3 L730.5 443.1 L732.5 442.9 L734.6 442.6 L736.8 442.4 L739.0 442.2 L741.2 441.9 L743.4 441.7 L745.7 441.5 L747.9 441.2 L750.2 441.0 L752.4 440.7 L754.6 440.5 L756.7 440.3 L758.8 440.0 L760.8 439.8 L762.8 439.6 L764.6 439.3 L766.4 439.1 L768.8 438.8 L771.2 438.5 L773.5 438.1 L775.6 437.8 L777.8 437.4 L779.9 437.1 L781.9 436.8 L783.9 436.4 L785.8 436.1 L787.8 435.8 L789.7 435.5 L791.6 435.2 L793.6 434.9 L795.5 434.6 L797.4 434.4 L799.4 434.1 L801.5 433.8 L803.6 433.6 L805.7 433.3 L807.8 433.1 L809.9 432.8 L811.9 432.6 L814.0 432.3 L816.0 432.1 L818.0 431.9 L820.1 431.8 L822.1 431.6 L824.1 431.5 L826.1 431.4 L828.0 431.3 L830.0 431.3 L832.1 431.3 L834.2 431.3 L836.3 431.4 L838.4 431.5 L840.5 431.6 L842.5 431.7 L844.6 431.9 L846.6 432.1 L848.6 432.3 L850.6 432.5 L852.6 432.8 L854.5 433.1 L856.4 433.4 L858.3 433.7 L860.6 434.2 L862.9 434.7 L865.2 435.3 L867.4 435.9 L869.6 436.6 L871.7 437.2 L873.8 437.9 L875.9 438.6 L877.9 439.3 L880.0 439.9 L882.0 440.5 L884.2 441.1 L886.4 441.7 L888.6 442.3 L890.8 442.9 L892.9 443.5 L895.0 444.1 L897.0 444.6 L898.9 445.1 L900.8 445.6 L902.5 446.1 L905.1 446.9 L907.3 447.6 L909.3 448.3 L911.3 448.9 L913.4 449.4 L915.8 449.7 L917.8 449.8 L919.9 449.8 L922.2 449.7 L924.4 449.6 L926.7 449.5 L929.0 449.3 L931.2 449.2 L933.3 449.2 L935.6 449.3 L937.7 449.3 L939.7 449.4 L941.8 449.6 L943.9 449.8 L946.2 450.0 L948.6 450.2 L950.5 450.4 L952.4 450.6 L954.5 450.8 L956.7 451.1 L958.8 451.3 L961.0 451.6 L963.2 451.9 L965.2 452.2 L967.2 452.5 L969.1 452.8 L971.6 453.3 L973.9 453.8 L976.1 454.3 L978.2 454.8 L980.2 455.3 L982.3 455.9 L984.5 456.4 L986.7 456.9 L988.8 457.3 L991.0 457.7 L993.1 458.2 L995.3 458.7 L997.6 459.3 L1000.0 460.0 L1001.9 460.6 L1003.9 461.3 L1005.9 462.1 L1008.0 462.9 L1010.1 463.8 L1012.2 464.6 L1014.3 465.5 L1016.4 466.4 L1018.5 467.3 L1020.5 468.2 L1022.6 469.2 L1024.6 470.1 L1026.7 471.1 L1028.7 472.1 L1030.8 473.1 L1032.8 474.1 L1034.9 475.0 L1036.9 475.9 L1039.0 476.7 L1041.0 477.5 L1043.1 478.3 L1045.1 479.0 L1047.2 479.7 L1049.2 480.5 L1051.3 481.2 L1053.3 481.9 L1055.4 482.7 L1057.4 483.5 L1059.5 484.3 L1061.5 485.1 L1063.6 486.0 L1065.6 486.8 L1067.7 487.6 L1069.7 488.5 L1071.8 489.3 L1073.8 490.1 L1075.9 490.9 L1077.9 491.8 L1080.0 492.7 L1082.0 493.5 L1084.1 494.4 L1086.1 495.2 L1088.2 496.0 L1090.2 496.7 L1092.3 497.4 L1094.3 498.0 L1096.3 498.6 L1098.2 499.1 L1100.1 499.5 L1102.1 500.0 L1104.1 500.4 L1106.2 500.8 L1108.4 501.3 L1110.7 501.7 L1112.5 502.0 L1114.4 502.4 L1116.4 502.7 L1118.4 503.0 L1120.5 503.3 L1122.6 503.6 L1124.7 504.0 L1126.9 504.3 L1129.0 504.6 L1131.1 504.8 L1133.2 505.1 L1135.3 505.4 L1137.4 505.7 L1139.5 506.0 L1141.7 506.2 L1144.0 506.5 L1146.2 506.8 L1148.4 507.1 L1150.5 507.3 L1152.6 507.5 L1154.6 507.7 L1156.5 507.9 L1158.3 508.0 L1159.9 508.1 L1162.7 508.1 L1164.9 507.9 L1166.8 507.6 L1168.6 507.2 L1170.3 506.9 L1172.2 506.7 L1174.2 506.6 L1176.3 506.5 L1178.3 506.5 L1180.4 506.5 L1182.5 506.6 L1184.5 506.7 L1186.6 506.9 L1188.7 507.1 L1190.8 507.4 L1192.9 507.7 L1194.9 508.0 L1196.8 508.1 L1199.5 508.1 L1202.0 508.0 L1204.4 507.7 L1206.7 507.3 L1208.9 506.7 L1210.8 506.0 L1212.9 505.1 L1215.3 504.2 L1217.1 503.5 L1219.1 502.7 L1221.2 501.8 L1223.4 501.0 L1225.5 500.3 L1227.6 499.9 L1229.6 499.8 L1231.6 499.8 L1233.6 500.0 L1235.7 500.4 L1237.8 500.7 L1240.0 501.1 L1241.9 501.5 L1243.8 502.0 L1245.8 502.6 L1247.8 503.2 L1250.0 503.7 L1252.4 504.0 L1255.0 504.1 L1256.7 504.0 L1258.5 503.9 L1260.4 503.7 L1262.4 503.4 L1264.5 503.1 L1266.6 502.8 L1268.8 502.4 L1270.9 502.0 L1273.0 501.6 L1275.1 501.2 L1277.1 500.9 L1279.0 500.5 L1281.3 500.1 L1283.5 499.6 L1285.8 499.1 L1288.0 498.7 L1290.2 498.2 L1292.4 497.7 L1294.4 497.2 L1296.4 496.7 L1298.3 496.2 L1300.0 495.7 L1302.6 494.9 L1304.7 494.1 L1306.7 493.4 L1308.5 492.6 L1310.4 491.9 L1312.3 491.2 L1314.3 490.5 L1316.4 489.8 L1318.4 489.2 L1320.5 488.6 L1322.5 488.0 L1324.6 487.5 L1326.6 487.1 L1328.4 486.8 L1330.2 486.5 L1332.2 486.2 L1334.4 486.0 L1336.9 485.8 L1338.7 485.7 L1340.7 485.7 L1343.0 485.6 L1345.3 485.6 L1347.7 485.6 L1350.0 485.6 L1352.2 485.5 L1354.2 485.4 L1356.0 485.3 L1357.4 485.0 L1360.5 482.6 L1361.5 479.7 L1364.8 474.4 L1367.2 474.0 L1369.7 474.4 L1371.8 474.5 L1373.8 474.8 L1375.9 475.0 L1377.9 476.0 L1381.2 482.1 L1383.7 487.9 L1385.1 489.0 L1386.8 489.8 L1390.2 490.8 L1391.8 491.2 L1393.7 491.7 L1395.8 492.2 L1398.2 492.7 L1400.6 493.3 L1403.0 493.8 L1405.3 494.3 L1407.4 494.7 L1409.3 495.1 L1410.7 495.3 L1413.6 495.5 L1414.8 494.5 L1416.8 492.8 L1419.2 490.5 L1421.4 488.7 L1424.4 487.5 L1427.2 487.1 L1429.9 487.1 L1432.9 488.3 L1434.8 489.9 L1436.9 492.2 L1439.1 494.4 L1441.1 496.1 L1443.2 497.2 L1445.1 497.6 L1447.7 497.7 L1449.4 497.6 L1451.4 497.4 L1453.6 497.1 L1455.8 496.7 L1458.0 496.4 L1460.0 496.1 L1462.1 495.8 L1464.0 495.6 L1465.9 495.4 L1468.0 495.2 L1470.8 494.8 L1472.5 494.6 L1474.3 494.4 L1476.2 494.2 L1478.3 493.9 L1480.4 493.7 L1482.6 493.4 L1484.8 493.1 L1487.0 492.7 L1489.2 492.3 L1491.3 491.8 L1493.4 491.2 L1495.5 490.6 L1497.6 489.8 L1499.7 489.1 L1501.9 488.2 L1504.0 487.4 L1506.0 486.6 L1508.0 485.7 L1510.0 484.9 L1511.8 484.1 L1514.3 483.0 L1516.7 481.9 L1519.0 480.8 L1521.2 479.7 L1523.2 478.6 L1525.2 477.5 L1527.1 476.4 L1529.5 474.8 L1531.6 473.2 L1533.5 471.6 L1535.4 470.1 L1537.4 468.7 L1539.4 467.4 L1541.2 466.3 L1543.2 465.2 L1545.2 464.1 L1547.6 463.1 L1549.5 462.4 L1551.5 461.7 L1553.6 461.1 L1555.8 460.5 L1558.1 459.8 L1560.5 459.2 L1563.0 458.5 L1564.9 458.0 L1566.9 457.4 L1568.9 456.9 L1571.1 456.3 L1573.2 455.7 L1575.4 455.2 L1577.6 454.6 L1579.6 454.1 L1581.6 453.7 L1583.5 453.3 L1585.9 452.8 L1588.1 452.5 L1590.2 452.2 L1592.2 452.0 L1594.2 451.8 L1596.4 451.6 L1598.9 451.5 L1600.8 451.4 L1602.8 451.4 L1604.8 451.4 L1607.0 451.4 L1609.2 451.4 L1611.4 451.4 L1613.6 451.4 L1615.8 451.5 L1617.9 451.5 L1620.0 451.5 L1622.1 451.5 L1624.1 451.6 L1626.2 451.7 L1628.2 451.7 L1630.3 451.8 L1632.3 451.9 L1634.3 451.9 L1636.2 451.9 L1638.1 451.9 L1640.0 451.8 L1642.3 451.6 L1644.6 451.4 L1646.9 451.2 L1649.1 450.9 L1651.3 450.6 L1653.3 450.2 L1655.2 449.7 L1656.9 449.2 L1659.7 447.9 L1662.0 446.3 L1664.0 444.7 L1666.1 443.2 L1668.3 441.9 L1670.5 440.6 L1672.8 439.5 L1675.4 438.6 L1677.5 438.2 L1679.8 437.9 L1682.3 437.7 L1684.8 437.5 L1687.1 437.2 L1689.2 436.8 L1691.7 435.7 L1693.8 434.3 L1695.9 433.0 L1698.4 432.1 L1700.4 431.9 L1702.7 431.8 L1705.1 431.9 L1707.5 432.1 L1709.9 432.2 L1712.3 432.1 L1714.6 431.9 L1716.8 431.5 L1719.0 431.2 L1721.2 430.7 L1723.6 430.3 L1726.1 429.8 L1728.2 429.4 L1730.5 429.1 L1732.9 428.6 L1735.4 428.2 L1737.7 427.8 L1740.0 427.4 L1742.0 427.0 L1743.6 426.6 L1746.3 425.0 L1749.2 423.8 L1750.7 423.7 L1752.4 423.7 L1754.4 423.7 L1756.5 423.8 L1758.7 423.9 L1761.0 423.9 L1763.3 424.0 L1765.5 423.9 L1767.6 423.8 L1769.7 423.6 L1771.8 423.3 L1773.9 422.9 L1776.0 422.5 L1778.1 422.1 L1780.2 421.7 L1782.2 421.3 L1784.1 420.9 L1786.0 420.6 L1788.2 420.3 L1790.2 420.1 L1792.1 419.9 L1794.0 419.7 L1795.8 419.5 L1797.8 419.4 L1800.0 419.2 L1801.8 419.1 L1803.7 418.9 L1805.7 418.8 L1807.7 418.6 L1809.8 418.5 L1811.8 418.4 L1813.9 418.2 L1816.0 418.1 L1818.0 418.0 L1820.0 417.9 L1822.1 417.8 L1824.2 417.7 L1826.3 417.7 L1828.4 417.6 L1830.4 417.5 L1832.4 417.4 L1834.3 417.3 L1836.1 417.1 L1838.6 416.8 L1840.9 416.6 L1843.1 416.3 L1845.3 415.9 L1847.4 415.4 L1849.6 414.8 L1851.9 414.0 L1854.1 413.0 L1856.4 411.9 L1858.7 410.7 L1860.9 409.6 L1863.2 408.5 L1865.5 407.4 L1867.9 406.4 L1870.2 405.4 L1872.5 404.3 L1874.7 403.2 L1876.7 402.2 L1879.3 400.7 L1881.5 399.2 L1883.5 397.6 L1885.7 395.9 L1888.0 394.0 L1890.2 392.0 L1892.5 389.9 L1894.8 387.8 L1897.1 385.6 L1899.3 383.2 L1901.6 380.9 L1903.8 378.7 L1906.1 376.8 L1908.5 375.1 L1910.7 373.4 L1912.8 371.5 L1915.2 368.6 L1917.3 365.5 L1919.1 362.5 L1922.7 354.4 L1925.5 348.0" stroke="#0000ff" stroke-width="4.3" fill="none" stroke-linejoin="round" stroke-linecap="round"/>
<path d="M131.0 811.6 L132.1 811.8 L133.2 812.0 L134.6 812.2 L136.1 812.5 L138.0 812.8 L140.2 813.1 L142.7 813.4 L145.7 813.6 L149.2 813.9 L150.6 814.0 L152.0 814.1 L153.4 814.1 L154.9 814.2 L156.3 814.3 L157.9 814.4 L159.4 814.4 L161.0 814.5 L162.6 814.6 L164.3 814.6 L166.1 814.7 L167.9 814.8 L169.9 814.8 L171.9 814.9 L174.0 815.0 L176.2 815.0 L178.5 815.1 L181.0 815.2 L183.5 815.3 L186.2 815.4 L189.0 815.5 L192.0 815.6 L195.1 815.7 L198.4 815.8 L199.9 815.9 L201.4 815.9 L203.0 816.0 L204.6 816.0 L206.2 816.1 L207.9 816.1 L209.6 816.2 L211.4 816.3 L213.1 816.3 L215.0 816.4 L216.8 816.5 L218.7 816.5 L220.6 816.6 L222.5 816.7 L224.5 816.7 L226.4 816.8 L228.4 816.9 L230.5 817.0 L232.5 817.0 L234.6 817.1 L236.7 817.2 L238.8 817.3 L240.9 817.3 L243.0 817.4 L245.2 817.5 L247.3 817.6 L249.5 817.6 L251.7 817.7 L253.9 817.8 L256.1 817.9 L258.3 818.0 L260.5 818.0 L262.7 818.1 L264.9 818.2 L267.1 818.3 L269.4 818.3 L271.6 818.4 L273.8 818.5 L276.0 818.5 L278.3 818.6 L280.5 818.7 L282.7 818.8 L284.9 818.8 L287.1 818.9 L289.3 818.9 L291.4 819.0 L293.6 819.1 L295.7 819.1 L297.9 819.2 L300.0 819.2 L302.1 819.3 L304.2 819.4 L306.2 819.4 L308.3 819.5 L310.3 819.5 L312.4 819.5 L314.4 819.6 L316.5 819.6 L318.6 819.7 L320.7 819.7 L322.8 819.8 L324.9 819.8 L327.0 819.8 L329.2 819.9 L331.3 819.9 L333.4 819.9 L335.6 820.0 L337.7 820.0 L339.9 820.0 L342.0 820.0 L344.2 820.1 L346.3 820.1 L348.5 820.1 L350.6 820.1 L352.8 820.2 L354.9 820.2 L357.0 820.2 L359.2 820.2 L361.3 820.2 L363.5 820.3 L365.6 820.3 L367.7 820.3 L369.8 820.3 L371.9 820.3 L374.0 820.4 L376.1 820.4 L378.2 820.4 L380.2 820.4 L382.3 820.4 L384.3 820.4 L386.3 820.5 L388.4 820.5 L390.4 820.5 L392.3 820.5 L394.3 820.5 L396.3 820.5 L398.2 820.6 L400.1 820.6 L402.0 820.6 L403.9 820.6 L405.7 820.6 L407.6 820.7 L409.4 820.7 L411.2 820.7 L413.0 820.7 L414.7 820.7 L416.4 820.8 L418.1 820.8 L419.8 820.8 L422.4 820.8 L424.9 820.9 L427.3 820.9 L429.7 820.9 L432.0 821.0 L434.2 821.0 L436.4 821.0 L438.5 821.1 L440.5 821.1 L442.6 821.1 L444.5 821.2 L446.5 821.2 L448.4 821.2 L450.3 821.3 L452.1 821.3 L454.0 821.3 L455.8 821.4 L457.6 821.4 L459.4 821.4 L461.3 821.5 L463.1 821.5 L464.9 821.5 L466.8 821.6 L468.6 821.6 L470.5 821.6 L472.4 821.7 L474.4 821.7 L476.4 821.8 L478.4 821.8 L480.5 821.8 L482.6 821.9 L484.8 821.9 L487.1 822.0 L489.4 822.0 L491.2 822.0 L493.0 822.1 L494.8 822.1 L496.7 822.1 L498.5 822.2 L500.4 822.2 L502.3 822.2 L504.2 822.3 L506.1 822.3 L508.1 822.4 L510.0 822.4 L512.0 822.4 L514.0 822.5 L516.0 822.5 L518.0 822.5 L520.0 822.6 L522.0 822.6 L524.0 822.7 L526.1 822.7 L528.1 822.7 L530.2 822.8 L532.2 822.8 L534.3 822.9 L536.4 822.9 L538.5 822.9 L540.5 823.0 L542.6 823.0 L544.7 823.1 L546.8 823.1 L548.9 823.1 L550.9 823.2 L553.0 823.2 L555.1 823.3 L557.2 823.3 L559.3 823.3 L561.3 823.4 L563.4 823.4 L565.5 823.5 L567.5 823.5 L569.6 823.5 L571.6 823.6 L573.6 823.6 L575.7 823.6 L577.7 823.7 L579.7 823.7 L581.8 823.7 L583.8 823.8 L585.9 823.8 L588.0 823.8 L590.0 823.9 L592.1 823.9 L594.2 823.9 L596.3 824.0 L598.4 824.0 L600.5 824.0 L602.6 824.1 L604.8 824.1 L606.9 824.1 L609.0 824.1 L611.1 824.2 L613.2 824.2 L615.3 824.2 L617.4 824.3 L619.5 824.3 L621.7 824.3 L623.8 824.4 L625.9 824.4 L627.9 824.4 L630.0 824.4 L632.1 824.5 L634.2 824.5 L636.3 824.5 L638.3 824.6 L640.4 824.6 L642.4 824.6 L644.4 824.6 L646.4 824.7 L648.5 824.7 L650.5 824.7 L652.4 824.7 L654.4 824.8 L656.4 824.8 L658.3 824.8 L660.2 824.9 L662.1 824.9 L664.0 824.9 L665.9 824.9 L667.8 825.0 L669.6 825.0 L671.9 825.0 L674.2 825.1 L676.5 825.1 L678.7 825.1 L681.0 825.2 L683.2 825.2 L685.5 825.2 L687.7 825.3 L689.9 825.3 L692.1 825.3 L694.3 825.4 L696.4 825.4 L698.6 825.4 L700.7 825.4 L702.8 825.5 L704.9 825.5 L707.0 825.5 L709.1 825.6 L711.1 825.6 L713.2 825.6 L715.2 825.7 L717.1 825.7 L719.1 825.7 L721.0 825.8 L723.0 825.8 L724.9 825.8 L726.7 825.9 L728.6 825.9 L730.4 825.9 L732.2 826.0 L733.9 826.0 L735.7 826.1 L737.4 826.1 L739.1 826.2 L740.7 826.2 L743.3 826.3 L745.8 826.4 L748.2 826.4 L750.4 826.5 L752.5 826.6 L754.5 826.7 L756.4 826.8 L758.2 826.9 L760.1 827.0 L761.8 827.0 L763.6 827.1 L765.4 827.2 L767.2 827.3 L769.0 827.4 L770.9 827.5 L772.8 827.6 L774.8 827.8 L776.9 827.9 L779.1 828.0 L781.5 828.1 L784.0 828.2 L785.7 828.3 L787.5 828.4 L789.4 828.4 L791.3 828.5 L793.3 828.6 L795.3 828.7 L797.4 828.8 L799.5 828.9 L801.7 829.0 L803.9 829.1 L806.1 829.2 L808.3 829.3 L810.6 829.4 L812.8 829.5 L815.1 829.6 L817.3 829.7 L819.6 829.8 L821.8 829.9 L824.0 830.0 L826.2 830.1 L828.4 830.2 L830.6 830.3 L832.7 830.4 L834.7 830.5 L836.7 830.5 L838.7 830.6 L840.6 830.7 L842.4 830.8 L844.2 830.9 L845.9 831.0 L847.6 831.0 L849.1 831.1 L852.2 831.2 L855.1 831.4 L857.7 831.5 L860.2 831.6 L862.5 831.7 L864.7 831.8 L866.7 831.9 L868.6 832.0 L870.4 832.1 L872.1 832.2 L873.8 832.2 L875.4 832.3 L876.9 832.4 L878.5 832.5 L880.0 832.6 L882.9 832.8 L885.2 833.1 L887.1 833.3 L888.9 833.5 L890.7 833.7 L892.8 833.9 L895.4 834.0 L897.2 834.0 L899.2 834.0 L901.3 834.0 L903.6 833.9 L905.9 833.9 L908.2 833.8 L910.5 833.7 L912.8 833.7 L915.1 833.6 L917.2 833.5 L919.2 833.5 L921.0 833.5 L923.8 833.5 L926.4 833.6 L928.7 833.8 L930.9 833.9 L932.9 834.0 L934.7 834.0 L936.4 834.0 L939.2 833.6 L941.1 833.0 L943.6 832.4 L945.3 832.1 L947.1 831.8 L949.1 831.5 L951.3 831.2 L953.9 831.0 L956.9 830.9 L958.6 830.9 L960.4 830.9 L962.3 830.9 L964.3 830.9 L966.4 831.0 L968.6 831.0 L970.8 831.1 L973.1 831.2 L975.4 831.2 L977.8 831.3 L980.1 831.4 L982.5 831.4 L984.4 831.4 L986.3 831.5 L988.3 831.5 L990.3 831.5 L992.4 831.6 L994.5 831.6 L996.5 831.7 L998.6 831.7 L1000.7 831.7 L1002.8 831.8 L1005.0 831.8 L1007.1 831.8 L1009.2 831.9 L1011.2 831.9 L1013.3 831.9 L1015.3 831.9 L1017.4 831.9 L1019.4 831.9 L1021.4 831.9 L1023.3 831.9 L1025.3 831.9 L1027.3 831.9 L1029.3 831.9 L1031.3 831.9 L1033.4 831.9 L1035.4 831.9 L1037.5 831.9 L1039.6 831.9 L1041.8 831.9 L1044.0 831.9 L1045.9 831.9 L1047.8 831.9 L1049.8 831.9 L1051.7 831.9 L1053.8 831.9 L1055.8 831.9 L1057.9 832.0 L1059.9 832.0 L1062.0 832.0 L1064.1 832.0 L1066.1 832.0 L1068.2 832.0 L1070.2 832.1 L1072.2 832.1 L1074.2 832.1 L1076.2 832.1 L1078.1 832.2 L1080.0 832.2 L1082.2 832.2 L1084.4 832.3 L1086.5 832.4 L1088.6 832.4 L1090.7 832.5 L1092.7 832.5 L1094.7 832.6 L1096.7 832.7 L1098.7 832.7 L1100.7 832.8 L1102.7 832.9 L1104.7 833.0 L1106.7 833.1 L1108.8 833.2 L1110.8 833.3 L1112.9 833.4 L1115.0 833.6 L1117.1 833.7 L1119.3 833.9 L1121.4 834.0 L1123.6 834.2 L1125.7 834.4 L1127.9 834.6 L1130.0 834.7 L1132.0 834.9 L1134.0 835.0 L1136.0 835.2 L1137.9 835.3 L1139.7 835.3 L1141.5 835.4 L1144.0 835.4 L1146.3 835.4 L1148.4 835.3 L1150.4 835.2 L1152.4 835.1 L1154.3 835.0 L1156.2 834.8 L1158.1 834.7 L1160.0 834.5 L1162.0 834.4 L1164.0 834.3 L1166.1 834.1 L1168.2 834.0 L1170.2 833.8 L1172.2 833.7 L1174.3 833.5 L1176.3 833.4 L1178.4 833.3 L1180.5 833.3 L1182.5 833.3 L1184.5 833.4 L1186.6 833.5 L1188.7 833.7 L1190.7 833.9 L1192.8 834.2 L1194.8 834.4 L1196.8 834.7 L1198.9 834.9 L1201.0 835.2 L1203.0 835.4 L1205.0 835.6 L1207.1 835.8 L1209.2 836.0 L1211.2 836.2 L1213.2 836.4 L1215.3 836.7 L1217.3 836.9 L1219.4 837.0 L1221.5 837.2 L1223.5 837.4 L1225.5 837.6 L1227.4 837.7 L1229.2 837.9 L1231.0 838.0 L1232.8 838.2 L1234.7 838.3 L1236.7 838.4 L1238.9 838.5 L1241.3 838.6 L1244.0 838.7 L1245.7 838.7 L1247.6 838.8 L1249.6 838.8 L1251.7 838.8 L1253.9 838.8 L1256.1 838.8 L1258.4 838.8 L1260.8 838.8 L1263.1 838.8 L1265.4 838.8 L1267.7 838.8 L1270.0 838.8 L1272.2 838.8 L1274.3 838.8 L1276.3 838.7 L1278.2 838.7 L1279.9 838.7 L1282.5 838.6 L1284.8 838.5 L1286.9 838.4 L1288.8 838.3 L1290.5 838.2 L1292.3 838.1 L1294.1 838.0 L1296.0 837.9 L1298.1 837.8 L1300.5 837.8 L1302.3 837.8 L1304.2 837.8 L1306.2 837.9 L1308.3 837.9 L1310.4 838.0 L1312.6 838.0 L1314.8 838.1 L1317.0 838.2 L1319.2 838.3 L1321.4 838.4 L1323.6 838.4 L1325.6 838.5 L1327.6 838.6 L1329.5 838.7 L1331.3 838.8 L1333.8 838.9 L1336.1 839.1 L1338.2 839.2 L1340.2 839.4 L1342.2 839.6 L1344.1 839.7 L1346.0 839.9 L1347.9 840.1 L1349.8 840.2 L1351.8 840.4 L1353.9 840.6 L1356.1 840.7 L1358.3 840.9 L1360.5 841.1 L1362.7 841.2 L1364.8 841.4 L1366.9 841.5 L1368.9 841.7 L1370.7 841.8 L1372.3 841.9 L1375.1 842.1 L1377.4 842.3 L1379.3 842.4 L1381.0 842.4 L1382.5 842.4 L1384.7 841.8 L1387.6 841.2 L1389.3 841.2 L1391.2 841.3 L1393.5 841.5 L1395.9 841.6 L1398.3 841.8 L1400.7 841.9 L1403.0 841.9 L1405.1 841.8 L1407.2 841.7 L1409.2 841.6 L1411.2 841.4 L1413.4 841.2 L1415.8 841.0 L1418.4 840.9 L1420.3 840.8 L1422.3 840.8 L1424.6 840.7 L1426.9 840.6 L1429.2 840.5 L1431.6 840.5 L1433.9 840.4 L1436.2 840.4 L1438.3 840.5 L1440.2 840.5 L1442.0 840.6 L1444.7 840.9 L1447.0 841.4 L1449.0 841.9 L1450.8 842.5 L1452.5 843.1 L1454.3 843.5 L1456.4 843.9 L1458.3 844.3 L1460.1 844.6 L1462.2 844.8 L1464.5 845.0 L1466.3 845.1 L1468.2 845.1 L1470.1 845.1 L1472.2 845.0 L1474.5 845.0 L1477.1 844.9 L1480.0 844.7 L1481.6 844.6 L1483.4 844.5 L1485.3 844.3 L1487.3 844.1 L1489.4 843.9 L1491.5 843.7 L1493.7 843.5 L1495.8 843.3 L1498.0 843.1 L1500.2 842.9 L1502.3 842.8 L1504.4 842.7 L1506.3 842.6 L1508.2 842.6 L1510.5 842.6 L1512.8 842.8 L1515.1 842.9 L1517.3 843.2 L1519.4 843.4 L1521.6 843.7 L1523.6 843.9 L1525.5 844.2 L1527.4 844.4 L1529.1 844.6 L1530.7 844.7 L1533.5 844.8 L1535.5 844.7 L1537.2 844.5 L1539.2 844.4 L1542.0 844.4 L1543.6 844.5 L1545.3 844.6 L1547.2 844.7 L1549.2 844.9 L1551.2 845.1 L1553.3 845.3 L1555.5 845.5 L1557.7 845.7 L1560.0 845.8 L1562.3 846.0 L1564.6 846.1 L1566.5 846.2 L1568.5 846.3 L1570.6 846.3 L1572.8 846.4 L1575.1 846.4 L1577.4 846.5 L1579.6 846.5 L1581.8 846.6 L1584.0 846.6 L1586.1 846.6 L1588.0 846.7 L1589.8 846.7 L1591.4 846.7 L1592.8 846.7 L1596.4 846.6 L1597.7 846.4 L1600.7 846.4 L1602.2 846.5 L1604.0 846.6 L1605.9 846.8 L1608.0 847.0 L1610.2 847.2 L1612.4 847.4 L1614.7 847.6 L1617.0 847.8 L1619.2 847.9 L1621.3 848.0 L1623.2 848.0 L1625.3 847.9 L1627.3 847.7 L1629.1 847.4 L1630.9 847.0 L1632.7 846.6 L1634.5 846.3 L1636.5 846.0 L1638.8 845.8 L1641.3 845.8 L1643.0 845.8 L1644.8 845.9 L1646.6 846.1 L1648.6 846.3 L1650.6 846.5 L1652.7 846.7 L1654.8 846.9 L1656.9 847.2 L1659.1 847.4 L1661.3 847.7 L1663.4 847.9 L1665.6 848.1 L1667.7 848.3 L1669.7 848.5 L1671.7 848.6 L1673.8 848.7 L1675.9 848.8 L1678.0 848.8 L1680.0 848.8 L1682.1 848.8 L1684.2 848.8 L1686.2 848.8 L1688.2 848.8 L1690.3 848.8 L1692.2 848.7 L1694.2 848.7 L1696.1 848.6 L1698.0 848.6 L1699.9 848.5 L1702.2 848.4 L1704.5 848.3 L1706.7 848.1 L1708.9 848.0 L1711.0 847.8 L1713.1 847.6 L1715.2 847.4 L1717.3 847.2 L1719.4 847.1 L1721.5 846.9 L1723.6 846.8 L1725.8 846.7 L1728.0 846.6 L1730.2 846.5 L1732.4 846.4 L1734.7 846.3 L1736.9 846.2 L1739.1 846.2 L1741.2 846.1 L1743.3 846.1 L1745.3 846.1 L1747.2 846.2 L1749.6 846.3 L1751.9 846.5 L1754.0 846.8 L1756.0 847.1 L1758.0 847.4 L1760.1 847.8 L1762.4 848.2 L1764.8 848.6 L1766.7 848.9 L1768.6 849.3 L1770.6 849.7 L1772.7 850.1 L1774.8 850.5 L1776.9 850.9 L1779.1 851.4 L1781.4 851.7 L1783.7 852.1 L1786.0 852.4 L1788.4 852.7 L1790.4 852.9 L1792.5 853.0 L1794.7 853.2 L1796.9 853.3 L1799.2 853.4 L1801.6 853.5 L1803.9 853.6 L1806.2 853.7 L1808.4 853.7 L1810.6 853.8 L1812.6 853.8 L1814.6 853.8 L1816.3 853.9 L1817.9 853.9 L1821.2 853.9 L1823.3 853.8 L1825.0 853.7 L1826.9 853.5 L1829.7 853.3 L1831.4 853.2 L1833.3 853.0 L1835.3 852.8 L1837.4 852.5 L1839.6 852.3 L1841.9 852.1 L1844.2 851.9 L1846.5 851.7 L1848.8 851.6 L1851.0 851.5 L1853.2 851.5 L1855.3 851.6 L1857.5 851.7 L1859.6 852.0 L1861.8 852.2 L1863.9 852.5 L1866.1 852.8 L1868.2 853.2 L1870.4 853.5 L1872.5 853.9 L1874.7 854.2 L1876.8 854.5 L1878.9 854.8 L1881.1 855.2 L1883.2 855.6 L1885.3 856.0 L1887.4 856.4 L1889.5 856.8 L1891.6 857.1 L1893.8 857.5 L1896.0 857.7 L1898.2 857.9 L1900.4 858.0 L1902.6 858.0 L1904.9 857.9 L1907.3 857.8 L1909.8 857.5 L1912.3 857.3 L1914.8 857.0 L1917.2 856.7 L1919.5 856.4 L1921.6 856.2 L1923.5 855.9 L1925.0 855.7 L1926.3 855.6" stroke="#ff0000" stroke-width="3.7" fill="none" stroke-linejoin="round" stroke-linecap="round"/>
<path d="M131.0 1033.6 L132.1 1033.6 L133.4 1033.6 L134.8 1033.6 L136.4 1033.6 L138.1 1033.6 L139.9 1033.6 L141.9 1033.6 L143.9 1033.7 L146.0 1033.7 L148.2 1033.7 L150.5 1033.7 L152.8 1033.7 L155.1 1033.7 L157.5 1033.7 L159.9 1033.7 L162.2 1033.8 L164.6 1033.8 L166.9 1033.8 L169.2 1033.8 L171.5 1033.9 L173.6 1033.9 L175.8 1033.9 L177.8 1034.0 L179.7 1034.0 L181.5 1034.1 L183.9 1034.2 L186.3 1034.3 L188.6 1034.4 L190.9 1034.5 L193.1 1034.7 L195.3 1034.8 L197.4 1035.0 L199.5 1035.1 L201.6 1035.3 L203.6 1035.5 L205.6 1035.6 L207.5 1035.8 L209.4 1035.9 L211.3 1036.1 L213.1 1036.2 L214.9 1036.4 L216.7 1036.5 L218.4 1036.6 L220.8 1036.7 L223.1 1036.9 L225.1 1037.0 L227.1 1037.1 L228.9 1037.3 L230.7 1037.4 L232.5 1037.5 L234.3 1037.6 L236.3 1037.6 L238.3 1037.7 L240.6 1037.8 L243.0 1037.8 L244.8 1037.8 L246.6 1037.9 L248.5 1037.9 L250.5 1037.9 L252.5 1037.9 L254.6 1037.9 L256.7 1037.9 L258.9 1037.9 L261.1 1037.9 L263.2 1037.9 L265.4 1037.9 L267.6 1037.9 L269.7 1037.8 L271.9 1037.8 L274.0 1037.8 L276.0 1037.7 L278.0 1037.7 L279.9 1037.6 L282.1 1037.5 L284.1 1037.4 L286.1 1037.4 L287.9 1037.3 L289.7 1037.2 L291.5 1037.1 L293.3 1036.9 L295.1 1036.8 L296.9 1036.7 L298.8 1036.5 L300.9 1036.3 L303.1 1036.1 L305.4 1035.9 L307.9 1035.7 L310.7 1035.4 L312.3 1035.2 L314.0 1035.1 L315.8 1034.9 L317.6 1034.7 L319.5 1034.5 L321.5 1034.3 L323.4 1034.1 L325.5 1033.9 L327.5 1033.6 L329.6 1033.4 L331.8 1033.2 L333.9 1032.9 L336.1 1032.7 L338.3 1032.4 L340.5 1032.2 L342.7 1031.9 L344.9 1031.7 L347.1 1031.4 L349.3 1031.2 L351.5 1030.9 L353.7 1030.7 L355.8 1030.4 L357.9 1030.2 L360.0 1029.9 L362.0 1029.7 L364.0 1029.4 L366.0 1029.2 L368.2 1028.9 L370.3 1028.7 L372.4 1028.4 L374.6 1028.1 L376.6 1027.9 L378.7 1027.6 L380.8 1027.3 L382.9 1027.0 L384.9 1026.7 L386.9 1026.5 L389.0 1026.2 L391.0 1025.9 L393.0 1025.6 L395.0 1025.4 L397.0 1025.1 L399.0 1024.8 L401.0 1024.6 L403.0 1024.3 L405.1 1024.1 L407.1 1023.9 L409.1 1023.6 L411.1 1023.4 L413.2 1023.2 L415.2 1023.0 L417.3 1022.8 L419.4 1022.6 L421.5 1022.5 L423.7 1022.3 L425.9 1022.1 L428.1 1022.0 L430.3 1021.9 L432.5 1021.7 L434.7 1021.6 L436.9 1021.5 L439.1 1021.3 L441.3 1021.2 L443.5 1021.1 L445.6 1021.0 L447.8 1020.9 L449.8 1020.8 L451.8 1020.7 L453.8 1020.6 L455.8 1020.5 L457.6 1020.3 L459.4 1020.2 L461.2 1020.1 L462.8 1020.0 L464.4 1019.9 L467.2 1019.7 L469.6 1019.5 L471.7 1019.3 L473.5 1019.2 L475.1 1019.0 L476.7 1018.9 L478.3 1018.7 L479.9 1018.5 L481.7 1018.3 L483.8 1018.0 L486.2 1017.7 L489.0 1017.4 L490.6 1017.2 L492.3 1017.0 L494.2 1016.7 L496.1 1016.5 L498.1 1016.2 L500.2 1015.9 L502.4 1015.6 L504.6 1015.3 L506.9 1015.0 L509.1 1014.7 L511.5 1014.3 L513.8 1014.0 L516.1 1013.7 L518.4 1013.4 L520.7 1013.1 L522.9 1012.8 L525.1 1012.5 L527.3 1012.2 L529.3 1011.9 L531.3 1011.6 L533.2 1011.4 L535.0 1011.2 L536.7 1011.0 L538.2 1010.8 L541.4 1010.5 L544.0 1010.2 L546.2 1010.1 L548.0 1010.0 L549.7 1009.9 L551.3 1009.9 L553.0 1009.8 L554.9 1009.8 L557.2 1009.7 L560.0 1009.6 L561.6 1009.5 L563.3 1009.4 L565.2 1009.4 L567.1 1009.3 L569.1 1009.2 L571.1 1009.1 L573.3 1009.0 L575.4 1008.9 L577.6 1008.8 L579.8 1008.8 L582.0 1008.7 L584.2 1008.6 L586.4 1008.5 L588.6 1008.4 L590.7 1008.3 L592.7 1008.2 L594.7 1008.1 L596.5 1008.1 L598.3 1008.0 L600.0 1007.9 L602.6 1007.8 L604.8 1007.7 L606.9 1007.6 L608.9 1007.6 L610.7 1007.5 L612.5 1007.4 L614.3 1007.4 L616.1 1007.3 L617.9 1007.2 L620.0 1007.0 L622.2 1006.9 L624.6 1006.7 L626.3 1006.6 L628.2 1006.4 L630.0 1006.2 L632.0 1006.0 L634.0 1005.8 L636.0 1005.6 L638.1 1005.4 L640.2 1005.1 L642.3 1004.9 L644.4 1004.7 L646.6 1004.4 L648.7 1004.2 L650.9 1004.0 L653.1 1003.7 L655.2 1003.5 L657.3 1003.3 L659.4 1003.2 L661.5 1003.0 L663.6 1002.9 L665.7 1002.7 L667.8 1002.6 L669.9 1002.5 L672.1 1002.4 L674.3 1002.3 L676.4 1002.2 L678.6 1002.1 L680.7 1002.1 L682.8 1002.0 L684.9 1001.9 L687.0 1001.8 L689.0 1001.7 L691.0 1001.6 L693.0 1001.5 L694.8 1001.4 L696.7 1001.2 L698.4 1001.1 L700.9 1000.9 L703.2 1000.6 L705.4 1000.3 L707.5 1000.1 L709.5 999.8 L711.5 999.5 L713.4 999.2 L715.3 998.8 L717.1 998.5 L719.0 998.1 L721.0 997.8 L723.0 997.4 L725.0 997.0 L727.0 996.6 L728.9 996.2 L730.7 995.8 L732.6 995.4 L734.5 995.0 L736.5 994.5 L738.5 994.0 L740.6 993.5 L742.8 993.0 L745.1 992.5 L747.6 991.9 L749.4 991.5 L751.2 991.1 L753.2 990.6 L755.2 990.2 L757.3 989.7 L759.4 989.2 L761.6 988.7 L763.8 988.2 L766.0 987.6 L768.3 987.1 L770.5 986.6 L772.7 986.1 L774.8 985.6 L776.9 985.1 L778.9 984.6 L780.9 984.2 L782.7 983.7 L784.5 983.3 L787.0 982.7 L789.2 982.1 L791.4 981.6 L793.4 981.1 L795.3 980.6 L797.2 980.1 L799.0 979.6 L800.9 979.2 L802.8 978.7 L804.8 978.2 L806.9 977.7 L809.1 977.1 L811.0 976.6 L813.1 976.1 L815.2 975.6 L817.4 975.1 L819.7 974.5 L822.0 974.0 L824.3 973.4 L826.6 972.9 L828.8 972.4 L831.0 971.8 L833.1 971.4 L835.0 970.9 L836.9 970.5 L838.5 970.1 L840.0 969.7 L843.3 968.9 L845.4 968.4 L846.8 968.0 L848.2 967.6 L850.3 967.2 L852.1 966.8 L854.0 966.4 L856.0 966.1 L858.1 965.7 L860.3 965.3 L862.8 964.9 L865.6 964.6 L867.4 964.4 L869.3 964.2 L871.4 964.0 L873.6 963.9 L875.8 963.7 L878.1 963.5 L880.4 963.4 L882.7 963.2 L885.0 963.1 L887.2 963.0 L889.3 962.9 L891.3 962.8 L893.6 962.7 L895.8 962.7 L898.0 962.7 L900.1 962.8 L902.2 962.8 L904.2 962.9 L906.2 962.9 L908.1 963.0 L910.0 963.1 L911.8 963.1 L914.3 963.2 L916.7 963.3 L919.0 963.4 L921.2 963.5 L923.2 963.5 L925.2 963.5 L927.1 963.4 L929.5 963.0 L931.6 962.4 L933.5 961.7 L935.4 961.1 L937.4 960.5 L939.3 960.0 L941.0 959.6 L942.8 959.2 L944.9 958.9 L947.6 958.5 L949.3 958.3 L951.1 958.1 L953.2 957.9 L955.3 957.6 L957.5 957.4 L959.8 957.2 L962.0 957.0 L964.2 956.8 L966.2 956.7 L968.1 956.6 L970.5 956.5 L972.7 956.5 L974.8 956.5 L976.8 956.5 L978.9 956.6 L981.1 956.7 L983.5 956.9 L985.3 957.0 L987.3 957.2 L989.3 957.3 L991.3 957.5 L993.4 957.7 L995.6 957.9 L997.7 958.2 L999.8 958.4 L1001.9 958.7 L1004.0 959.0 L1006.1 959.3 L1008.2 959.7 L1010.3 960.2 L1012.4 960.6 L1014.6 961.1 L1016.7 961.6 L1018.7 962.0 L1020.7 962.4 L1022.7 962.8 L1024.5 963.1 L1026.9 963.4 L1029.1 963.6 L1031.2 963.7 L1033.3 963.8 L1035.4 963.9 L1037.6 964.0 L1040.0 964.1 L1041.8 964.2 L1043.8 964.4 L1045.8 964.5 L1047.8 964.6 L1049.9 964.8 L1052.1 964.9 L1054.2 965.1 L1056.3 965.2 L1058.4 965.3 L1060.5 965.4 L1062.6 965.5 L1064.6 965.5 L1066.7 965.6 L1068.8 965.6 L1070.9 965.7 L1072.9 965.7 L1075.0 965.8 L1077.0 965.8 L1079.0 965.8 L1081.0 965.9 L1083.1 966.0 L1085.2 966.1 L1087.2 966.2 L1089.2 966.3 L1091.3 966.4 L1093.3 966.5 L1095.3 966.6 L1097.4 966.6 L1099.5 966.6 L1101.5 966.5 L1103.7 966.4 L1105.9 966.3 L1108.2 966.1 L1110.5 965.9 L1112.7 965.7 L1114.8 965.6 L1116.7 965.4 L1118.5 965.3 L1120.0 965.2 L1123.1 965.0 L1124.6 965.1 L1127.1 965.6 L1128.8 966.1 L1130.7 966.8 L1132.9 967.5 L1135.1 968.4 L1137.5 969.2 L1140.0 969.9 L1142.5 970.5 L1144.3 970.8 L1146.3 971.1 L1148.3 971.3 L1150.3 971.5 L1152.4 971.7 L1154.6 971.9 L1156.7 972.0 L1158.8 972.2 L1160.9 972.4 L1163.0 972.6 L1165.0 972.8 L1167.1 973.0 L1169.2 973.3 L1171.2 973.5 L1173.2 973.7 L1175.3 974.0 L1177.3 974.2 L1179.4 974.5 L1181.5 974.8 L1183.5 975.1 L1185.5 975.4 L1187.6 975.8 L1189.7 976.2 L1191.7 976.6 L1193.8 977.1 L1195.8 977.5 L1197.8 978.0 L1199.9 978.4 L1202.0 978.8 L1204.0 979.2 L1206.0 979.6 L1208.0 980.0 L1210.0 980.4 L1211.9 980.8 L1213.9 981.2 L1215.9 981.5 L1217.9 981.9 L1220.0 982.2 L1222.2 982.5 L1224.5 982.8 L1226.3 983.0 L1228.1 983.1 L1230.0 983.2 L1231.9 983.3 L1233.8 983.4 L1235.7 983.4 L1237.7 983.5 L1239.8 983.5 L1241.9 983.6 L1244.0 983.7 L1246.2 983.9 L1248.5 984.1 L1250.9 984.3 L1252.7 984.5 L1254.6 984.7 L1256.5 985.0 L1258.5 985.3 L1260.6 985.6 L1262.7 985.9 L1264.8 986.3 L1266.9 986.6 L1269.1 987.0 L1271.2 987.3 L1273.4 987.7 L1275.5 988.0 L1277.6 988.3 L1279.6 988.6 L1281.6 988.9 L1283.5 989.2 L1285.3 989.4 L1287.0 989.6 L1289.4 989.8 L1291.7 990.0 L1293.8 990.2 L1295.8 990.3 L1297.7 990.4 L1299.6 990.5 L1301.4 990.5 L1303.3 990.6 L1305.1 990.6 L1307.0 990.6 L1309.0 990.6 L1311.1 990.6 L1313.1 990.6 L1315.2 990.6 L1317.2 990.5 L1319.4 990.4 L1321.5 990.3 L1323.6 990.2 L1325.8 990.1 L1328.0 990.0 L1330.1 989.9 L1332.2 989.9 L1334.3 989.8 L1336.4 989.7 L1338.4 989.7 L1340.6 989.7 L1342.8 989.7 L1345.0 989.8 L1347.3 989.8 L1349.5 989.9 L1351.6 990.0 L1353.8 990.1 L1355.8 990.1 L1357.8 990.2 L1359.6 990.2 L1361.4 990.2 L1363.0 990.1 L1365.8 989.9 L1368.0 989.6 L1370.0 989.2 L1371.7 988.7 L1373.5 988.2 L1375.4 987.6 L1377.5 987.0 L1379.5 986.3 L1381.6 985.6 L1383.6 984.8 L1385.7 984.0 L1387.7 983.1 L1389.8 982.1 L1392.0 981.1 L1394.1 980.0 L1396.2 978.9 L1398.2 977.9 L1400.0 977.0 L1402.1 975.9 L1403.8 975.1 L1405.7 974.2 L1408.2 973.2 L1409.9 972.6 L1411.8 971.9 L1413.8 971.1 L1416.0 970.3 L1418.2 969.6 L1420.4 968.8 L1422.6 968.1 L1424.6 967.4 L1426.8 966.7 L1429.1 966.1 L1431.3 965.5 L1433.5 964.9 L1435.6 964.3 L1437.6 963.6 L1439.4 962.9 L1442.0 961.6 L1444.2 960.2 L1446.4 958.7 L1449.2 956.8 L1450.9 955.7 L1452.8 954.4 L1454.9 953.0 L1457.0 951.6 L1459.2 950.2 L1461.3 948.7 L1463.5 947.4 L1465.6 946.1 L1467.7 944.9 L1469.8 943.7 L1471.9 942.5 L1474.1 941.4 L1476.2 940.3 L1478.2 939.3 L1480.1 938.4 L1482.0 937.5 L1484.3 936.5 L1486.4 935.6 L1488.4 934.8 L1490.4 934.1 L1492.3 933.5 L1494.3 933.0 L1496.2 932.6 L1497.9 932.4 L1499.7 932.2 L1501.6 932.1 L1503.8 932.1 L1506.6 932.1 L1508.3 932.1 L1510.1 932.2 L1512.1 932.3 L1514.2 932.4 L1516.4 932.5 L1518.7 932.6 L1521.0 932.8 L1523.2 932.9 L1525.4 933.0 L1527.5 933.2 L1529.5 933.3 L1531.3 933.4 L1533.8 933.6 L1536.1 933.7 L1538.2 933.9 L1540.3 934.0 L1542.2 934.2 L1544.1 934.3 L1545.9 934.5 L1547.7 934.6 L1550.0 934.8 L1552.0 935.0 L1553.9 935.2 L1555.8 935.3 L1557.8 935.6 L1560.0 935.8 L1562.0 936.0 L1564.2 936.2 L1566.4 936.4 L1568.6 936.6 L1570.9 936.9 L1573.2 937.3 L1575.4 937.8 L1577.6 938.4 L1580.0 939.2 L1582.3 940.0 L1584.6 940.9 L1586.8 941.8 L1588.9 942.7 L1590.8 943.5 L1593.0 944.4 L1594.8 945.2 L1596.4 945.9 L1598.4 946.9 L1601.0 948.1 L1602.6 948.9 L1604.4 949.7 L1606.4 950.6 L1608.5 951.6 L1610.6 952.6 L1612.8 953.7 L1615.0 954.7 L1617.2 955.8 L1619.4 956.8 L1621.5 957.8 L1623.5 958.8 L1625.6 959.7 L1627.7 960.7 L1629.7 961.7 L1631.8 962.6 L1633.8 963.6 L1635.8 964.6 L1637.9 965.6 L1640.0 966.5 L1642.0 967.5 L1644.0 968.5 L1646.1 969.5 L1648.2 970.5 L1650.2 971.5 L1652.2 972.5 L1654.3 973.5 L1656.3 974.4 L1658.4 975.4 L1660.5 976.4 L1662.5 977.3 L1664.5 978.2 L1666.6 979.2 L1668.7 980.1 L1670.7 981.0 L1672.8 981.9 L1674.8 982.8 L1676.8 983.7 L1678.9 984.5 L1681.0 985.3 L1683.0 986.0 L1685.0 986.7 L1687.1 987.4 L1689.2 988.0 L1691.2 988.6 L1693.2 989.2 L1695.3 989.7 L1697.3 990.2 L1699.4 990.7 L1701.5 991.2 L1703.5 991.6 L1705.6 992.0 L1707.7 992.4 L1709.8 992.8 L1711.9 993.1 L1714.1 993.5 L1716.2 993.8 L1718.2 994.0 L1720.2 994.3 L1722.2 994.5 L1724.0 994.7 L1726.5 994.9 L1728.9 995.1 L1731.2 995.2 L1733.3 995.2 L1735.4 995.2 L1737.5 995.2 L1739.4 995.2 L1741.9 995.1 L1744.3 995.0 L1746.5 994.8 L1748.6 994.6 L1750.8 994.2 L1753.0 993.8 L1755.2 993.3 L1757.4 992.7 L1759.5 991.9 L1761.7 991.0 L1763.8 989.9 L1765.8 988.6 L1767.8 987.2 L1770.0 985.7 L1772.5 984.0 L1774.3 982.9 L1776.2 981.6 L1778.2 980.3 L1780.3 978.9 L1782.4 977.6 L1784.5 976.2 L1786.6 974.9 L1788.7 973.7 L1790.7 972.6 L1792.6 971.5 L1794.6 970.5 L1796.5 969.5 L1798.5 968.5 L1800.5 967.5 L1802.7 966.5 L1805.0 965.5 L1807.0 964.7 L1809.1 963.9 L1811.3 963.1 L1813.5 962.3 L1815.8 961.4 L1818.1 960.6 L1820.3 959.8 L1822.5 959.0 L1824.6 958.2 L1826.6 957.4 L1828.9 956.4 L1831.0 955.5 L1833.1 954.5 L1835.1 953.6 L1837.0 952.6 L1839.0 951.6 L1840.9 950.5 L1842.9 949.3 L1844.9 948.0 L1847.0 946.7 L1849.0 945.3 L1851.0 943.9 L1853.0 942.4 L1855.0 940.8 L1857.1 939.1 L1859.1 937.4 L1861.2 935.5 L1863.3 933.5 L1865.4 931.3 L1867.6 929.0 L1869.7 926.8 L1871.7 924.7 L1873.6 922.8 L1875.4 921.1 L1877.8 918.9 L1879.9 917.1 L1881.8 915.6 L1883.8 914.1 L1886.2 912.5 L1888.0 911.3 L1890.0 910.1 L1892.1 908.8 L1894.3 907.6 L1896.5 906.3 L1898.6 905.2 L1900.6 904.2 L1902.4 903.3 L1905.0 902.2 L1907.5 901.4 L1909.7 900.8 L1911.6 900.3 L1913.3 900.0 L1915.6 900.8 L1917.6 900.6 L1919.6 898.4 L1922.1 895.2 L1924.4 891.9 L1926.0 889.7" stroke="#0000ff" stroke-width="4.3" fill="none" stroke-linejoin="round" stroke-linecap="round"/>
<path d="M105 513L90 505.0L90 521.0Z" fill="#0000ff"/>
<path d="M1922 513.5L1936 506.5L1936 520.5Z" fill="#0000ff"/>
<path d="M131 836.5L116 828.5L116 844.5Z" fill="#ff0000"/>
<path d="M1926 837L1936 830.0L1936 844.0Z" fill="#ff0000"/>
<path d="M105 239L115.5 255L105 271L94.5 255Z" stroke="#ff0000" stroke-width="1" fill="none" shape-rendering="crispEdges"/>
<path d="M105 242L111 253.7L99 253.7Z M105 268L111 256.3L99 256.3Z" fill="#ff0000"/>
<text x="98.62" y="230.50" font-size="23" fill="#ff0000">1</text>
<path d="M767 255.5L777.5 271.5L767 287.5L756.5 271.5Z" stroke="#ff0000" stroke-width="1" fill="none" shape-rendering="crispEdges"/>
<text x="760.62" y="247.00" font-size="23" fill="#ff0000">2</text>
<path d="M1214 263.5L1224.5 279.5L1214 295.5L1203.5 279.5Z" stroke="#ff0000" stroke-width="1" fill="none" shape-rendering="crispEdges"/>
<text x="1207.62" y="255.00" font-size="23" fill="#ff0000">3</text>
<path d="M1595.8 272.2L1606.3 288.2L1595.8 304.2L1585.3 288.2Z" stroke="#ff0000" stroke-width="1" fill="none" shape-rendering="crispEdges"/>
<text x="1589.42" y="263.70" font-size="23" fill="#ff0000">4</text>
<path d="M1908.3 288L1918.8 304L1908.3 320L1897.8 304Z" stroke="#ff0000" stroke-width="1" fill="none" shape-rendering="crispEdges"/>
<text x="1901.12" y="279.50" font-size="23" fill="#ff0000">6</text>
<path d="M1926 286.6L1936.5 302.6L1926 318.6L1915.5 302.6Z" stroke="#ff0000" stroke-width="1" fill="none" shape-rendering="crispEdges"/>
<text x="1919.12" y="278.10" font-size="23" fill="#ff0000">5</text>
<path d="M105 467.5L115.5 483.5L105 499.5L94.5 483.5Z" stroke="#0000ff" stroke-width="1" fill="none" shape-rendering="crispEdges"/>
<text x="98.62" y="459.00" font-size="23" fill="#0000ff">1</text>
<path d="M767 406.5L777.5 422.5L767 438.5L756.5 422.5Z" stroke="#0000ff" stroke-width="1" fill="none" shape-rendering="crispEdges"/>
<text x="760.62" y="398.00" font-size="23" fill="#0000ff">2</text>
<path d="M1214 469.7L1224.5 485.7L1214 501.7L1203.5 485.7Z" stroke="#0000ff" stroke-width="1" fill="none" shape-rendering="crispEdges"/>
<text x="1207.62" y="461.20" font-size="23" fill="#0000ff">3</text>
<path d="M1595 418.6L1605.5 434.6L1595 450.6L1584.5 434.6Z" stroke="#0000ff" stroke-width="1" fill="none" shape-rendering="crispEdges"/>
<text x="1588.62" y="410.10" font-size="23" fill="#0000ff">4</text>
<path d="M1926 315.5L1936.5 331.5L1926 347.5L1915.5 331.5Z" stroke="#0000ff" stroke-width="1" fill="none" shape-rendering="crispEdges"/>
<path d="M1926 318.5L1932 330.2L1920 330.2Z M1926 344.5L1932 332.8L1920 332.8Z" fill="#0000ff"/>
<path d="M1926.5 347V361M1926.5 348L1931 355M1926.5 888.5V902M1926.5 889.5L1931 896" stroke="#0000ff" stroke-width="1" fill="none"/>
<text x="1919.62" y="306.80" font-size="23" fill="#0000ff">5</text>
<text x="1919.62" y="306.80" font-size="23" fill="#0000ff">6</text>
<path d="M131 779.6L141.5 795.6L131 811.6L120.5 795.6Z" stroke="#ff0000" stroke-width="1" fill="none" shape-rendering="crispEdges"/>
<text x="124.62" y="771.10" font-size="23" fill="#ff0000">1</text>
<path d="M783.6 795.5L794.1 811.5L783.6 827.5L773.1 811.5Z" stroke="#ff0000" stroke-width="1" fill="none" shape-rendering="crispEdges"/>
<text x="777.22" y="787.00" font-size="23" fill="#ff0000">2</text>
<path d="M1223.9 805.1L1234.4 821.1L1223.9 837.1L1213.4 821.1Z" stroke="#ff0000" stroke-width="1" fill="none" shape-rendering="crispEdges"/>
<text x="1217.52" y="796.60" font-size="23" fill="#ff0000">3</text>
<path d="M1599.2 813.5L1609.7 829.5L1599.2 845.5L1588.7 829.5Z" stroke="#ff0000" stroke-width="1" fill="none" shape-rendering="crispEdges"/>
<text x="1592.82" y="805.00" font-size="23" fill="#ff0000">4</text>
<path d="M1902.5 824.5L1913.0 840.5L1902.5 856.5L1892.0 840.5Z" stroke="#ff0000" stroke-width="1" fill="none" shape-rendering="crispEdges"/>
<path d="M1902.5 827.5L1908.5 839.2L1896.5 839.2Z M1902.5 853.5L1908.5 841.8L1896.5 841.8Z" fill="#ff0000"/>
<text x="1895.52" y="816.00" font-size="23" fill="#ff0000">6</text>
<path d="M1926.3 823L1936.8 839L1926.3 855L1915.8 839Z" stroke="#ff0000" stroke-width="1" fill="none" shape-rendering="crispEdges"/>
<text x="1919.52" y="814.50" font-size="23" fill="#ff0000">5</text>
<path d="M131 1002.4000000000001L141.5 1018.4000000000001L131 1034.4L120.5 1018.4000000000001Z" stroke="#0000ff" stroke-width="1" fill="none" shape-rendering="crispEdges"/>
<text x="124.62" y="993.90" font-size="23" fill="#0000ff">1</text>
<path d="M783.6 949.9L794.1 965.9L783.6 981.9L773.1 965.9Z" stroke="#0000ff" stroke-width="1" fill="none" shape-rendering="crispEdges"/>
<text x="777.22" y="941.40" font-size="23" fill="#0000ff">2</text>
<path d="M1224.4 948.7L1234.9 964.7L1224.4 980.7L1213.9 964.7Z" stroke="#0000ff" stroke-width="1" fill="none" shape-rendering="crispEdges"/>
<text x="1218.02" y="940.20" font-size="23" fill="#0000ff">3</text>
<path d="M1599.8 914.1L1610.3 930.1L1599.8 946.1L1589.3 930.1Z" stroke="#0000ff" stroke-width="1" fill="none" shape-rendering="crispEdges"/>
<text x="1593.42" y="905.60" font-size="23" fill="#0000ff">4</text>
<path d="M1926 856.5L1936.5 872.5L1926 888.5L1915.5 872.5Z" stroke="#0000ff" stroke-width="1" fill="none" shape-rendering="crispEdges"/>
<path d="M1926 859.5L1932 871.2L1920 871.2Z M1926 885.5L1932 873.8L1920 873.8Z" fill="#0000ff"/>
<text x="1919.92" y="848.50" font-size="23" fill="#0000ff">5</text>
<text x="1919.92" y="848.50" font-size="23" fill="#0000ff">6</text>
</svg>
</body></html>
